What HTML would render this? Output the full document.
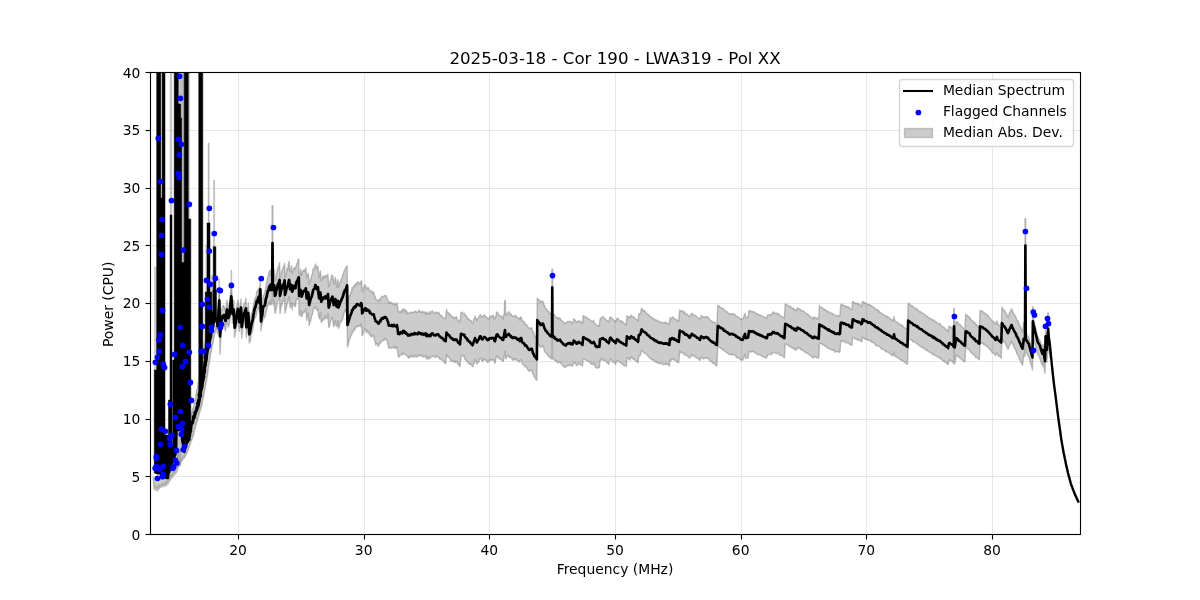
<!DOCTYPE html>
<html lang="en"><head><meta charset="utf-8"><title>2025-03-18 - Cor 190 - LWA319 - Pol XX</title>
<style>html,body{margin:0;padding:0;background:#fff;overflow:hidden}svg{display:block}</style></head>
<body>
<svg width="1200" height="600" viewBox="0 0 1200 600" font-family="'DejaVu Sans', 'Liberation Sans', sans-serif">
<rect x="0" y="0" width="1200" height="600" fill="#ffffff"/>
<defs><clipPath id="ax"><rect x="150" y="72" width="930" height="462"/></clipPath></defs>
<path d="M238.5 72V534M364.5 72V534M489.5 72V534M615.5 72V534M741.5 72V534M866.5 72V534M992.5 72V534" stroke="#b0b0b0" stroke-opacity="0.3" stroke-width="1.11" fill="none"/>
<path d="M150 534.5H1080M150 476.5H1080M150 419.5H1080M150 361.5H1080M150 303.5H1080M150 245.5H1080M150 188.5H1080M150 130.5H1080M150 72.5H1080" stroke="#b0b0b0" stroke-opacity="0.3" stroke-width="1.11" fill="none"/>
<g clip-path="url(#ax)">
<path d="M216.7 309.56 L217.6 316.2 L218.45 304.37 L219.3 290.47 L220 327.06 L221.2 311.82 L221.9 308.98 L222.6 306.86 L223.3 305.29 L224 306.53 L224.75 308.25 L225.5 311.3 L226.25 306.48 L227 300.25 L227.65 303.92 L228.3 308.11 L228.95 306.17 L229.6 304.24 L230.45 294.72 L231.3 287.78 L231.95 297.15 L232.6 303.63 L233.7 300.27 L234.7 317.43 L235.55 313.8 L236.4 307.63 L237.2 304.12 L238 299.9 L238.7 305.98 L239.4 311.87 L240.2 305.98 L241 299.2 L241.7 317.44 L242.3 313.01 L242.9 311.21 L243.5 306.16 L244.1 303.91 L244.7 303.34 L245.3 301.62 L245.9 298.26 L246.3 316.28 L246.97 311.77 L247.63 308.62 L248.3 302.95 L249.3 325.48 L249.98 322.89 L250.65 318.56 L251.32 314.47 L252 312.73 L252.67 309.83 L253.33 306.36 L254 302.86 L254.67 298.63 L255.33 297.63 L256 297.04 L256.68 291.54 L257.35 290.66 L258.02 289.9 L258.7 288.01 L259.5 293.42 L260.3 279.93 L261 312 L261.62 308.95 L262.25 304.9 L262.88 297.92 L263.5 295.47 L264.25 294.56 L265 291.86 L265.83 287.35 L266.67 282.85 L267.29 279.08 L267.92 276.51 L268.54 275.54 L269.17 270.89 L269.83 275.02 L270.5 269.74 L271.25 274.01 L272.08 268.74 L272.25 271.88 L272.15 205.6 L272.85 205.6 L272.75 269.64 L273.33 274.31 L274.17 269.38 L275 280.6 L275.62 280.42 L276.25 274.63 L276.88 272.71 L277.5 269.38 L278.19 266.95 L278.89 266.42 L279.58 262.61 L280 278.12 L280.69 276.04 L281.39 272.63 L282.08 270.44 L282.71 269.34 L283.33 267.28 L283.96 266.02 L284.58 263.1 L285 277.65 L285.69 275.25 L286.39 273.28 L287.08 268.04 L287.78 269.96 L288.47 264.28 L289.17 261.39 L290 271.86 L290.83 271.01 L291.67 265.61 L292.08 273.71 L292.78 272.12 L293.47 270.25 L294.17 267.37 L294.79 269.22 L295.42 268.25 L296.04 266.31 L296.67 264.17 L297.36 263.18 L298.06 259.72 L298.75 259.06 L299.17 277.74 L300 274.67 L300.83 269.54 L301.67 275.29 L302.36 273.42 L303.06 270.29 L303.75 271.29 L304.44 269.75 L305.14 271.84 L305.83 267.59 L306.67 277.51 L307.5 275.09 L308.33 273.47 L309.17 284.23 L309.79 282.4 L310.42 279.71 L311.04 278.2 L311.67 275.35 L312.36 274.23 L313.06 269.15 L313.75 268.13 L314.58 267.99 L315.42 264.08 L316.04 266.07 L316.67 268.85 L317.29 267.58 L317.92 266.24 L318.54 272.52 L319.17 277.77 L319.79 273.81 L320.42 270.8 L321.25 281.05 L321.94 279.59 L322.64 277.19 L323.33 275.99 L323.96 278.09 L324.58 276.8 L325.21 275.56 L325.83 276.93 L326.53 275.8 L327.22 275.31 L327.92 274.6 L328.75 286.79 L329.44 285.02 L330.14 281.61 L330.83 279.79 L331.67 275.27 L332.5 275.13 L333.12 278.63 L333.75 284 L334.58 280.67 L335.42 277.32 L336.04 282.13 L336.67 287.05 L337.29 283.53 L337.92 279.78 L338.33 287.52 L339.03 286.27 L339.72 282.27 L340.42 281.83 L341.11 279.58 L341.81 278.74 L342.5 275.39 L343.12 274.47 L343.75 272.18 L344.38 270.1 L345 270.06 L345.69 267.63 L346.39 267 L347.08 265.76 L347.5 303.47 L348.17 301.48 L348.83 297.59 L349.5 295.51 L350.17 295.52 L350.83 291.89 L351.46 292.22 L352.08 287.65 L352.71 288.16 L353.33 287.33 L354 285.38 L354.67 286.78 L355.33 284 L356 284.72 L356.67 282.66 L357.29 282.39 L357.92 281.74 L358.54 283.87 L359.17 282.83 L359.79 283.55 L360.42 283.87 L361.04 281.03 L361.67 280.94 L362.08 291.18 L362.81 291.17 L363.54 287.46 L364.27 286.4 L365 284.82 L365.73 285.78 L366.46 289.2 L367.19 288.6 L367.92 287.42 L368.58 287.94 L369.25 290.32 L369.92 290.6 L370 291.12 L370.62 291.48 L371.25 291.13 L371.88 290.81 L372.5 293.51 L373.12 293.19 L373.75 292.14 L374.38 295.66 L375 296.22 L375.62 298.84 L376.25 299.21 L376.88 300.22 L377.5 300.18 L378.12 300.94 L378.75 301.93 L379.38 299.15 L380 298.69 L380.62 299.93 L381.25 297.28 L381.88 296.25 L382.5 296.59 L383.19 296.88 L383.88 296.08 L384.56 295.7 L385.25 295.32 L386 295.63 L386.75 297.34 L387.5 299.33 L388.12 300.17 L388.75 303.45 L389.38 302 L390 303.71 L390.62 302.3 L391.25 302.25 L391.88 303.16 L392.5 304.01 L393.12 303.91 L393.75 303.15 L394.38 303.96 L395 305.04 L395.62 303.93 L396.25 304.86 L396.88 302.84 L397.5 306.38 L398.12 311.35 L398.75 311.79 L399.38 311.49 L400 312.91 L400.62 311.62 L401.25 311.57 L401.88 309.79 L402.5 312.46 L403.12 309.07 L403.75 309.29 L404.38 309.16 L405 311.53 L405.62 309.85 L406.25 313.28 L406.88 311.2 L407.5 313.69 L408.12 313.47 L408.75 313.36 L409.38 312.57 L410 313.01 L410.62 312 L411.25 312.49 L411.88 312.49 L412.5 312.44 L413.12 312.76 L413.75 311.97 L414.38 311.75 L415 312.04 L415.62 310.95 L416.25 312.26 L416.88 312.31 L417.5 312.22 L418.12 311.64 L418.75 309.91 L419.38 310.93 L420 311.3 L420.62 312.32 L421.25 311.52 L421.88 312.81 L422.5 311.2 L423.12 311.96 L423.75 312.31 L424.38 312.17 L425 313.29 L425.62 311.79 L426.25 314.65 L426.88 312.27 L427.5 313.27 L428.12 313.47 L428.75 314.54 L429.38 311.59 L430 313.8 L430.62 313.31 L431.25 311.41 L431.88 311.58 L432.5 310.88 L433.12 312.14 L433.75 312.25 L434.38 313.7 L435 313.07 L435.62 313.01 L436.25 311.81 L436.88 312.99 L437.5 312.77 L438.12 313.08 L438.75 312.3 L439.38 314.1 L440 314.53 L440.62 315.55 L441.25 315.56 L441.88 316.7 L442.5 316.83 L443.12 317.56 L443.75 317.91 L444.38 318.47 L445 318.69 L445.62 318.08 L446.5 309.29 L447.2 312.16 L447.9 312.25 L448.6 313.04 L449.3 314.61 L450 313.85 L450.62 315.62 L451.25 315.91 L451.88 316.33 L452.5 316.29 L453.12 317.23 L453.75 318.68 L454.38 317.64 L455 317.32 L455.62 317.8 L456.25 316.65 L456.88 317.59 L457.5 319.93 L458.12 320.33 L458.75 321.02 L459.38 321.99 L460 322.03 L461 312.54 L461.69 312.12 L462.38 312.54 L463.06 313.25 L463.75 313.74 L464.38 313.33 L465 315.12 L465.62 315.64 L466.25 315.82 L466.88 316.75 L467.5 319 L468.12 318.49 L468.75 318.98 L469.38 319.73 L470 320.11 L470.62 321.02 L471.25 320.87 L471.88 322.3 L472.5 323.48 L473.12 321.96 L473.75 319.33 L474.38 319.02 L475 315.89 L475.62 317.4 L476.25 319.08 L476.88 320.57 L477.5 318.69 L478.12 318.71 L478.75 317.18 L479.38 316.54 L480 314.75 L480.62 314.74 L481.25 316.25 L481.88 317.44 L482.5 317.05 L483.12 315.98 L483.75 315.41 L484.38 314.71 L485 316.47 L485.62 316.42 L486.25 316.59 L486.88 317.63 L487.5 318.22 L488.12 318.5 L488.75 318.97 L489.38 317.9 L490 316.33 L490.62 317.09 L491.25 317.01 L491.88 315.67 L492.5 316.56 L493.12 315.34 L493.75 316.22 L494.38 319.02 L495 318.97 L495.62 317.35 L496.25 313.99 L496.88 312.07 L497.5 312.25 L498.12 313.59 L498.75 315.12 L499.38 315.22 L500 316.17 L500.62 316.45 L501.25 316.47 L501.88 315.9 L502.5 318.36 L503.12 318.87 L503.75 315.46 L504.38 311.76 L504.65 300.6 L505.35 300.6 L505.62 314.99 L506.25 315.2 L506.88 313.56 L507.5 313.53 L508.12 312.62 L508.75 311.56 L509.38 313.25 L510 313.51 L510.62 314.77 L511.25 314.45 L511.88 315.8 L512.5 316.56 L513.12 316.17 L513.75 315.83 L514.38 316.1 L515 316.53 L515.62 315.2 L516.23 316.62 L516.84 317.07 L517.45 318.19 L518.05 318.37 L518.66 317.97 L519.27 318.84 L519.88 320.11 L520 317.66 L520.62 316.79 L521.25 317.3 L521.88 319.77 L522.5 321.36 L523.12 321.33 L523.75 321.92 L524.38 321.52 L525 324.57 L525.62 324.28 L526.25 324.42 L526.88 325.07 L527.5 326.3 L528.12 327.39 L528.75 327.72 L529.38 328.51 L530 328.37 L530.62 328.04 L531.25 328.82 L531.88 327.77 L532.5 330.29 L533.12 332.81 L533.75 332.73 L534.38 335.03 L535 336.55 L535.62 336.42 L536.25 337.3 L536.88 338.01 L537.25 298.23 L537.5 298.73 L538.12 298.94 L538.75 299.5 L539.38 300.08 L540 302.13 L540.62 302.55 L541.25 301.14 L541.88 301.56 L542.5 301.05 L543.12 301.73 L543.75 304.03 L544.38 305.99 L545 306.4 L545.62 308.86 L546.25 308.95 L546.88 309.2 L547.5 311.01 L548.12 311.32 L548.75 311.51 L549.38 313.38 L550 312.93 L550.62 314.31 L551.31 314.06 L552 313.84 L551.9 269.2 L552.6 269.2 L552.5 314.16 L553.12 315.06 L553.75 314.88 L554.38 314.54 L555 316.93 L555.62 317.19 L556.25 317.37 L556.88 316.78 L557.5 318.66 L558.12 318.81 L558.75 317.87 L559.38 317.83 L560 317.91 L560.62 319.71 L561.25 319.77 L561.88 320.53 L562.5 321.52 L563.12 321.93 L563.75 322.59 L564.38 322.38 L565 323.48 L565.62 323.57 L566.25 322.67 L566.88 322.67 L567.5 321.5 L568.12 321.57 L568.75 321.42 L569.38 321.38 L570 321.29 L570.62 322.39 L571.25 321.97 L571.88 322.95 L572.5 323.34 L573.12 321.38 L573.75 318.63 L574.38 319.62 L575 319.85 L575.62 320.7 L576.25 322.11 L576.88 322.63 L577.5 321.55 L578.12 321.52 L578.75 320.66 L579.38 321.17 L580 321.21 L580.62 322.01 L581.25 322.4 L581.88 321.73 L582.5 323.66 L583.12 316.07 L583.75 315.47 L584.38 317.11 L585 316.84 L585.62 317.05 L586.25 317.12 L586.88 317.58 L587.5 318.02 L588.12 318.51 L588.75 318.99 L589.38 319.4 L590 319.67 L590.62 321.05 L591.25 321 L591.88 321.75 L592.5 320.98 L593.12 321.73 L593.75 320.44 L594.38 322.95 L595 323.41 L595.62 324.77 L596.25 325.55 L596.88 325.19 L597.5 325.63 L598.12 325.98 L598.75 325.15 L599.38 326.01 L600 318.84 L600.62 318.71 L601.25 317.49 L601.88 317.79 L602.5 317.38 L603.12 316.39 L603.75 317.95 L604.38 318.23 L605 318.64 L605.62 318.72 L606.25 320.03 L606.88 320.94 L607.5 320.72 L608.12 321.31 L608.75 321.91 L609.38 319.32 L610 317.27 L610.62 316.91 L611.25 318.44 L611.88 318.25 L612.5 318.95 L613.12 319.38 L613.75 320.51 L614.38 320.98 L615 320.41 L615.62 322.1 L616.25 320.21 L616.88 318.31 L617.5 318.52 L618.12 318.62 L618.75 319.46 L619.38 320.66 L620 321.12 L620.62 321.66 L621.25 320.58 L621.88 321.84 L622.5 321.59 L623.12 322.56 L623.75 323 L624.38 323.9 L625 323.72 L625.62 324.43 L626.25 325.1 L626.88 315.74 L627.5 316.63 L628.12 317.56 L628.75 316.42 L629.38 317.21 L630 317.65 L630.62 316.58 L631.25 315.08 L631.88 315.98 L632.5 316.65 L633.12 317.01 L633.75 316.68 L634.38 318.11 L635 318.34 L635.62 318.64 L636.25 319.53 L636.88 320.09 L637.5 319.93 L638.12 321.16 L638.75 314.35 L639.38 313.72 L640 313.85 L640.62 313.18 L641.25 309.09 L641.88 308.29 L642.5 309.56 L643.12 310.83 L643.75 310.66 L644.38 310.29 L645 311.51 L645.62 312.14 L646.25 312.49 L646.88 314.02 L647.5 314.17 L648.12 314.55 L648.75 314.63 L649.38 315.96 L650 316.16 L650.62 316.82 L651.25 317.37 L651.88 318.25 L652.5 317.66 L653.12 318.58 L653.75 318.59 L654.38 319.6 L655 319.88 L655.62 319.81 L656.25 321.23 L656.88 320.16 L657.5 320.52 L658.12 321.44 L658.75 321.19 L659.38 321.63 L660 322.21 L660.62 322.37 L661.25 322.48 L661.88 321.98 L662.5 323.03 L663.12 322.87 L663.75 323.07 L664.38 323.34 L665 322.09 L665.62 322.87 L666.25 322.61 L666.88 323.5 L667.5 323.09 L668.12 323.4 L668.75 324.4 L669.38 324.28 L669.88 317.99 L670 319.22 L670.62 319.66 L671.25 318.44 L671.88 317.61 L672.5 316.81 L673.12 317.81 L673.75 318.32 L674.38 318.3 L675 318.88 L675.62 319.66 L676.25 319.62 L676.88 320.52 L677.5 320.06 L678.12 321.11 L678.75 320.84 L679.75 309.83 L680.42 310.83 L681.08 311.12 L681.75 310.97 L682.42 310.6 L683.08 312.05 L683.75 312.72 L684.38 311.69 L685 313.91 L685.62 313.8 L686.25 313.67 L686.88 313.95 L687.5 314.85 L688.12 315.46 L688.75 315.83 L689.38 316.72 L690 316.71 L690.62 314.89 L691.25 314 L691.88 313.26 L692.5 313.93 L693.12 314.61 L693.75 315.04 L694.38 314.94 L695 315.47 L695.62 315.74 L696.25 316.15 L696.88 316.85 L697.5 317.54 L698.12 317.8 L698.75 317.9 L699.38 318.77 L700 319.19 L700.62 317.83 L701.25 315.6 L701.88 316.34 L702.5 316.29 L703.12 316.55 L703.75 317.74 L704.38 317.62 L705 316.91 L705.62 316.41 L706.25 316.75 L706.88 317.33 L707.5 317.01 L708.12 317.02 L708.75 318.47 L709.38 318.99 L710 319.95 L710.62 320.45 L711.25 320.87 L711.88 321.19 L712.5 322.38 L713.12 321.89 L713.75 322.39 L714.38 322.18 L715 322.79 L715.62 323.84 L716.25 323.83 L716.88 324.65 L717.75 305.66 L718.43 305.38 L719.11 305.71 L719.79 307.04 L720.46 307.62 L721.14 307.62 L721.82 307.98 L722.5 308.1 L723.12 308.39 L723.75 309.82 L724.38 310.22 L725 310.4 L725.62 311.16 L726.25 311.12 L726.88 312.17 L727.5 311.95 L728.12 312.77 L728.75 313.75 L729.38 313.89 L730 314.4 L730.62 313.88 L731.25 313.53 L731.88 313.86 L732.5 313.53 L733.12 314.41 L733.75 314.12 L734.38 314.04 L735 315.18 L735.62 315.33 L736.25 316.34 L736.88 316.75 L737.5 316.68 L738.12 317.02 L738.75 317.45 L739.38 318.22 L740 318.53 L740.62 319.26 L741.25 318.51 L741.88 319.85 L742.5 319.36 L743.12 318.65 L743.75 316.47 L744.38 315.01 L745 313.45 L745.62 317.45 L746.25 317.94 L746.88 317.24 L747.5 317.43 L748.12 317.51 L749 310.33 L749.6 311.15 L750.2 311.79 L750.8 310.76 L751.4 311.54 L752 311.7 L752.6 311.59 L753.2 311.49 L753.8 312.37 L754.4 312.04 L755 312.43 L755.62 313.24 L756.25 313.61 L756.88 313.52 L757.5 314.06 L758.12 313.91 L758.75 314.71 L759.38 314.8 L760 315.68 L760.62 315.31 L761.25 315.19 L761.88 316.03 L762.5 316.36 L763.12 316.53 L763.75 317.02 L764.38 317.47 L765 317.52 L765.62 317.93 L766.25 318.31 L766.88 317.98 L767.5 315.67 L768.12 314.72 L768.75 314.71 L769.38 314.98 L770 314.81 L770.62 314.78 L771.25 315.04 L771.88 313.49 L772.5 313.86 L773.12 311.96 L773.75 311.89 L774.38 312.71 L775 313.05 L775.62 313.34 L776.25 313.59 L776.88 313.16 L777.5 313.71 L778.12 313.21 L778.75 314.2 L779.38 314.74 L780 315.43 L780.62 315.82 L781.25 316.7 L781.88 316.81 L782.5 316.73 L783.12 317.4 L783.75 318.23 L784.38 318.52 L785.25 304.04 L785.93 304.09 L786.61 304.44 L787.29 305.29 L787.96 305.4 L788.64 305.9 L789.32 306.84 L790 306.3 L790.62 306.34 L791.25 307.6 L791.88 308.23 L792.5 308.31 L793.12 309 L793.75 308.3 L794.38 310.37 L795 309.83 L795.62 310.33 L796.25 310.52 L796.88 309.46 L797.5 307.71 L798.12 308.93 L798.75 308.72 L799.38 308.58 L800 308.9 L800.62 310.35 L801.25 310.07 L801.88 311.01 L802.5 311.03 L803.12 310.52 L803.75 311.26 L804.38 311.91 L805 312.72 L805.62 313.06 L806.25 313.34 L806.88 313.55 L807.5 314.68 L808.12 314.61 L808.75 314.93 L809.38 316.43 L810 316.61 L810.62 316.5 L811.25 317.26 L811.88 317.58 L812.5 318.32 L813.12 319.12 L813.75 317.74 L814.38 316.77 L815 318.13 L815.62 317.95 L816.25 318.17 L816.88 319.17 L817.5 318.1 L818.12 319 L818.75 318.7 L819.38 305.25 L820 306.84 L820.62 307.27 L821.25 307.39 L821.88 307.48 L822.5 308.25 L823.12 308.22 L823.75 309.62 L824.38 308.99 L825 310.32 L825.62 309.96 L826.25 310.64 L826.88 310.72 L827.5 311.2 L828.12 312.26 L828.75 311.56 L829.38 312.96 L830 312.88 L830.62 312.87 L831.25 312.94 L831.88 313.16 L832.5 314.09 L833.12 313.89 L833.75 314.08 L834.38 315.42 L835 315.48 L835.62 315.51 L836.25 315.67 L836.88 316.07 L837.5 315.84 L838.12 315.71 L838.75 315.37 L839.38 316.16 L840 315.05 L840.62 305.48 L841.25 304.09 L841.88 305.23 L842.5 304.45 L843.12 305.61 L843.75 305.72 L844.38 305.6 L845 306.04 L845.62 305.8 L846.25 307.26 L846.88 306.72 L847.5 306.54 L848.12 307.48 L848.75 306.68 L849.38 308.22 L850 308.34 L850.62 309.28 L851.25 309.39 L851.88 309.74 L852.75 301.56 L853.45 301.76 L854.15 302.41 L854.85 303.16 L855.55 303.29 L856.25 303.64 L856.88 303.44 L857.5 303.03 L858.12 304.91 L858.75 303.94 L859.38 303.98 L860 305.07 L860.62 305.81 L861.25 306.63 L861.88 305.78 L862.5 301.78 L863.12 301.56 L863.75 301.84 L864.38 303.26 L865 302.71 L865.62 303.56 L866.25 303.16 L866.88 304.07 L867.5 304.29 L868.12 305.17 L868.75 304.53 L869.38 304.45 L870 304.82 L870.62 305.35 L871.25 306.26 L871.88 305.82 L872.5 306.9 L873.12 307.04 L873.75 307.9 L874.38 307.72 L875 309.01 L875.62 309.72 L876.25 309.83 L876.88 309.12 L877.5 310.32 L878.12 310.29 L878.75 311.77 L879.38 311.28 L880 312.37 L880.62 312.88 L881.25 312.66 L881.88 313.78 L882.5 314.26 L883.12 314.24 L883.75 314.79 L884.38 315.24 L885 315.7 L885.62 315.93 L886.25 315.62 L886.88 317.23 L887.5 316.72 L888.12 317.29 L888.75 317.23 L889.38 318.07 L890 318.42 L890.62 319.3 L891.25 319.81 L891.88 319.53 L892.5 320.61 L893.12 320.7 L894 316.59 L894.75 320.66 L895.41 321.37 L896.06 321.57 L896.72 321.95 L897.38 321.93 L898.03 323.33 L898.69 323.83 L899.34 323.67 L900 324.04 L900.62 324.88 L901.25 324.77 L901.88 325.84 L902.5 325.2 L903.12 326.64 L903.75 327.13 L904.38 327.92 L905 327.91 L905.62 328.2 L906.25 328.37 L906.88 329.41 L907.5 329.27 L908.12 303.41 L908.75 303.5 L909.38 303.53 L910 304.73 L910.62 305.08 L911.25 305.68 L911.88 305.54 L912.5 306.29 L913.12 306.55 L913.75 307.15 L914.38 307.79 L915 308.15 L915.62 308.93 L916.25 308.36 L916.88 309.58 L917.5 309.41 L918.12 310.76 L918.75 310.9 L919.38 311.37 L920 312.24 L920.62 311.55 L921.25 312.27 L921.88 312.64 L922.5 313.04 L923.12 313.46 L923.75 313.73 L924.38 314.24 L925 314.66 L925.62 315.47 L926.25 316.56 L926.88 316.03 L927.5 316.63 L928.12 317.11 L928.75 318.1 L929.38 317.99 L930 318.39 L930.62 318.8 L931.25 318.76 L931.88 319.36 L932.5 320.08 L933.12 320.09 L933.75 319.92 L934.38 321.2 L935 321.02 L935.62 322.28 L936.25 322.07 L936.88 322.68 L937.5 323.69 L938.12 323.41 L938.75 323.68 L939.38 323.71 L940 323.56 L940.62 325.22 L941.25 325.55 L941.88 326 L942.5 326.97 L943.12 327.22 L943.75 327.3 L944.38 327.84 L945 328.69 L945.62 328.95 L946.25 330.28 L946.88 329.74 L947.5 330.38 L948.12 331.57 L949 326.28 L949.7 326.14 L950.4 327.71 L951.1 327.41 L951.8 327.45 L952.5 328.18 L953.12 329.08 L953.75 330.47 L953.65 308.75 L954.35 308.75 L954.75 330.87 L955.5 326.23 L956.25 321.95 L956.88 321.66 L957.5 322.3 L958.12 322.61 L958.75 324.39 L959.38 324.36 L960 324.35 L960.62 325.24 L961.25 326.57 L961.88 327.07 L962.5 327.31 L963.12 328.23 L963.75 328.23 L964.38 329.34 L965 329.07 L965.62 314.31 L966.23 314.84 L966.84 315.57 L967.45 315.19 L968.05 316.6 L968.66 316.84 L969.27 317.06 L969.88 317.08 L970 319.22 L970.62 319.06 L971.25 320.14 L971.88 320.49 L972.5 321.22 L973.12 321.44 L973.75 322.97 L974.38 322.33 L975 322.8 L975.62 325.19 L976.25 324.64 L976.88 325.58 L977.5 325.66 L978.12 326.88 L978.75 327.09 L979.38 328.06 L980 310.28 L980.62 310.77 L981.25 311.14 L981.88 310.83 L982.5 311.02 L983.12 312.04 L983.75 313.05 L984.38 313.35 L985 312.91 L985.62 313.78 L986.25 314.51 L986.88 314.94 L987.5 314.97 L988.12 315.55 L988.75 316.73 L989.38 317.39 L990 318.26 L990.62 318.81 L991.25 319.93 L991.88 320.68 L992.5 321.04 L993.12 321.36 L993.75 321.99 L994.38 322.56 L995 323.65 L995.62 324.63 L996.25 322.63 L996.88 320.85 L997.5 323.16 L998.12 324.16 L998.75 325.04 L999.38 325.35 L1000 326.08 L1000.62 326.17 L1001.25 327.03 L1001.88 307.2 L1002.5 307.92 L1003.12 309.79 L1003.75 309.83 L1004.38 310.57 L1005 311.68 L1005.62 312.31 L1006.25 313.58 L1006.88 314.35 L1007.5 316.5 L1008.12 317.42 L1008.75 315.96 L1009.38 312.86 L1010.08 311.82 L1010.79 310.91 L1011.5 308.85 L1012.25 310.46 L1013 312.28 L1013.75 313.43 L1014.38 314.95 L1015 315.55 L1015.62 316.8 L1016.25 318.04 L1016.88 320.31 L1017.5 320.56 L1018.12 321.29 L1018.75 323.37 L1019.38 324.75 L1020 326.42 L1020.62 327.27 L1021.25 329.29 L1021.88 330.37 L1022.5 332.05 L1023.12 327.75 L1023.75 322.18 L1024.38 322.95 L1025 323.53 L1025.03 218.6 L1025.72 218.6 L1025.75 329.11 L1026.35 333.44 L1026.95 334.58 L1027.55 335.62 L1028.15 336.4 L1028.75 337.43 L1029.38 340.43 L1030 341.81 L1030.62 344.71 L1031.25 346.36 L1031.88 349.02 L1032.5 351.21 L1032.53 307 L1033.22 307 L1033.58 318.44 L1034.29 322.41 L1035 325.1 L1035.62 327.81 L1036.25 330.84 L1036.88 332.79 L1037.5 336.03 L1038.12 336.98 L1038.75 338.07 L1039.38 339.86 L1040 340.57 L1040.62 342.65 L1041.25 344.32 L1041.88 346.7 L1042.5 348.74 L1043.12 344.37 L1043.75 348.86 L1044.38 352.14 L1045 355.98 L1045.62 330.78 L1046.25 337.86 L1046.88 345.06 L1047.5 333.72 L1047.78 313 L1048.47 313 L1048.75 332.41 L1049.38 337.23 L1050 341.57 L1050 358.21 L1049.38 353.96 L1048.75 349.89 L1048.12 340.86 L1047.5 351.55 L1046.88 362.55 L1046.25 355.03 L1045.62 348.67 L1045 373.19 L1044.38 369.25 L1043.75 366.21 L1043.12 361.93 L1042.5 365.98 L1041.88 364.36 L1041.25 362.83 L1040.62 360.48 L1040 358.47 L1039.38 356.95 L1038.75 355.74 L1038.12 354.64 L1037.5 353.62 L1036.88 350.78 L1036.25 348.45 L1035.62 345.79 L1035 343.52 L1034.29 340.18 L1033.58 337.58 L1032.88 333.72 L1032.5 369.9 L1031.88 367.45 L1031.25 364.9 L1030.62 363.18 L1030 360.88 L1029.38 358.46 L1028.75 356.27 L1028.15 355.96 L1027.55 354.66 L1026.95 353.12 L1026.35 352.28 L1025.75 353.35 L1025.38 259.91 L1025 356.48 L1024.38 355.08 L1023.75 354.6 L1023.12 360.39 L1022.5 365.24 L1021.88 363.91 L1021.25 363.24 L1020.62 361.11 L1020 359.87 L1019.38 359.01 L1018.75 357.08 L1018.12 355.5 L1017.5 354.31 L1016.88 353.97 L1016.25 351.75 L1015.62 349.52 L1015 348.71 L1014.38 347.53 L1013.75 346.52 L1013 344.64 L1012.25 343.07 L1011.5 341.26 L1010.79 343.47 L1010.08 344.74 L1009.38 345.47 L1008.75 347.68 L1008.12 349.15 L1007.5 348.45 L1006.88 346.84 L1006.25 345.67 L1005.62 343.85 L1005 342.96 L1004.38 341.98 L1003.75 341.87 L1003.12 341.12 L1002.5 339.34 L1001.88 338.34 L1001.25 358.43 L1000.62 356.99 L1000 356.93 L999.38 356.12 L998.75 356.39 L998.12 355.39 L997.5 354.01 L996.88 352.62 L996.25 353.74 L995.62 355.56 L995 354.45 L994.38 353.82 L993.75 353.36 L993.12 352.59 L992.5 352.77 L991.88 352.02 L991.25 350.55 L990.62 350.37 L990 349.24 L989.38 349.14 L988.75 348.09 L988.12 347.34 L987.5 346.79 L986.88 346.81 L986.25 346.27 L985.62 345.35 L985 345.01 L984.38 344.23 L983.75 344.64 L983.12 343.43 L982.5 342.51 L981.88 343.4 L981.25 343.27 L980.62 342.3 L980 342.51 L979.38 359.61 L978.75 359.72 L978.12 358.32 L977.5 357.97 L976.88 357.13 L976.25 356.99 L975.62 357.61 L975 355.31 L974.38 355.05 L973.75 355 L973.12 354.14 L972.5 353.64 L971.88 353.15 L971.25 352.85 L970.62 351.66 L970 351.22 L969.88 350.75 L969.27 349.53 L968.66 349.54 L968.05 348.92 L967.45 348.1 L966.84 348.16 L966.23 348.05 L965.62 348.22 L965 361.6 L964.38 361.73 L963.75 361.1 L963.12 360.65 L962.5 360.1 L961.88 359.8 L961.25 359.19 L960.62 358.18 L960 357.91 L959.38 357.76 L958.75 357.05 L958.12 356.13 L957.5 356.21 L956.88 355.02 L956.25 354.86 L955.5 359.35 L954.75 364.18 L954 343.02 L953.75 363.5 L953.12 362.82 L952.5 361.67 L951.8 360.95 L951.1 361.01 L950.4 360.63 L949.7 359.39 L949 360.14 L948.12 364.63 L947.5 364.26 L946.88 362.89 L946.25 363.27 L945.62 362.61 L945 362.11 L944.38 361.03 L943.75 361.37 L943.12 360.94 L942.5 360.29 L941.88 359.81 L941.25 358.99 L940.62 359.09 L940 357.32 L939.38 357.88 L938.75 357.69 L938.12 357.32 L937.5 356.91 L936.88 356.27 L936.25 355.8 L935.62 355.9 L935 355.27 L934.38 354.85 L933.75 353.7 L933.12 355.07 L932.5 354.16 L931.88 353.42 L931.25 352.72 L930.62 352.45 L930 352.4 L929.38 352.23 L928.75 351.96 L928.12 351.28 L927.5 350.73 L926.88 349.92 L926.25 350.43 L925.62 349.3 L925 349.11 L924.38 348.62 L923.75 348.59 L923.12 347.64 L922.5 347.58 L921.88 346.53 L921.25 346.5 L920.62 346.75 L920 346.26 L919.38 345.45 L918.75 345.18 L918.12 344.25 L917.5 343.9 L916.88 344.06 L916.25 342.98 L915.62 342.57 L915 342.11 L914.38 342.01 L913.75 341.9 L913.12 341.99 L912.5 340.7 L911.88 339.97 L911.25 340.21 L910.62 339.91 L910 339.39 L909.38 338.83 L908.75 338.47 L908.12 338.08 L907.5 364.12 L906.88 364.03 L906.25 363.39 L905.62 363.2 L905 362.37 L904.38 362.32 L903.75 361.6 L903.12 361.4 L902.5 360.38 L901.88 360.16 L901.25 360.46 L900.62 359.74 L900 359.64 L899.34 358.77 L898.69 358.22 L898.03 358.1 L897.38 357.37 L896.72 356.81 L896.06 356.85 L895.41 356.33 L894.75 355.85 L894 351.85 L893.12 355.72 L892.5 355.82 L891.88 355.02 L891.25 354.77 L890.62 353.98 L890 353.6 L889.38 353.39 L888.75 352.12 L888.12 352.23 L887.5 352.3 L886.88 352.07 L886.25 350.76 L885.62 351.52 L885 350.4 L884.38 350.49 L883.75 349.93 L883.12 349.45 L882.5 349.11 L881.88 349.26 L881.25 348.51 L880.62 347.77 L880 346.76 L879.38 346.89 L878.75 346.26 L878.12 345.74 L877.5 346.04 L876.88 345.56 L876.25 344.99 L875.62 345.46 L875 343.92 L874.38 342.66 L873.75 342.72 L873.12 342.74 L872.5 342.17 L871.88 341.14 L871.25 342.33 L870.62 340.52 L870 340.22 L869.38 340 L868.75 340.67 L868.12 340.65 L867.5 339.57 L866.88 339.14 L866.25 339.31 L865.62 338.65 L865 338.82 L864.38 338.98 L863.75 337.45 L863.12 337.09 L862.5 337.35 L861.88 341.6 L861.25 341.63 L860.62 341.04 L860 340.48 L859.38 339.7 L858.75 339.66 L858.12 340.51 L857.5 339.23 L856.88 339.41 L856.25 339.27 L855.55 338.68 L854.85 338.93 L854.15 337.64 L853.45 337.41 L852.75 337.45 L851.88 345.31 L851.25 345.36 L850.62 344.84 L850 344 L849.38 344.22 L848.75 343.26 L848.12 342.6 L847.5 342.79 L846.88 342.92 L846.25 342.95 L845.62 342.2 L845 341.9 L844.38 340.99 L843.75 341.61 L843.12 341.33 L842.5 340.27 L841.88 341.48 L841.25 340.69 L840.62 341.44 L840 351.43 L839.38 352.31 L838.75 352 L838.12 351.49 L837.5 351.72 L836.88 351.83 L836.25 351.75 L835.62 351.44 L835 352.27 L834.38 351.15 L833.75 349.93 L833.12 349.5 L832.5 350.33 L831.88 349.98 L831.25 349.88 L830.62 349.06 L830 349.1 L829.38 348.47 L828.75 347.92 L828.12 348.59 L827.5 348.1 L826.88 347.05 L826.25 346.69 L825.62 346.09 L825 346.54 L824.38 345.05 L823.75 345.26 L823.12 344.83 L822.5 344.64 L821.88 343.45 L821.25 343.93 L820.62 343.53 L820 342.85 L819.38 343.43 L818.75 357.88 L818.12 357.93 L817.5 357.46 L816.88 357.72 L816.25 357.13 L815.62 356.98 L815 356.48 L814.38 356.28 L813.75 357.2 L813.12 358.27 L812.5 357.6 L811.88 356.75 L811.25 355.95 L810.62 355.61 L810 355.33 L809.38 354.73 L808.75 354.04 L808.12 353.82 L807.5 353.74 L806.88 352.53 L806.25 352.49 L805.62 352.88 L805 352.04 L804.38 351.74 L803.75 350.98 L803.12 350.04 L802.5 350.57 L801.88 349.72 L801.25 349.76 L800.62 349.42 L800 347.93 L799.38 348.12 L798.75 347.8 L798.12 348.28 L797.5 347.32 L796.88 348.52 L796.25 350.39 L795.62 349.18 L795 348.7 L794.38 349.7 L793.75 347.98 L793.12 348.29 L792.5 347.93 L791.88 348.01 L791.25 347.3 L790.62 346.05 L790 346.08 L789.32 346.72 L788.64 345.6 L787.96 344.87 L787.29 345.04 L786.61 344.23 L785.93 343.87 L785.25 343.85 L784.38 357.87 L783.75 357.29 L783.12 356.75 L782.5 356.3 L781.88 355.53 L781.25 355.42 L780.62 355.06 L780 355.32 L779.38 354.51 L778.75 353.68 L778.12 353 L777.5 353.37 L776.88 353.47 L776.25 353.32 L775.62 353.17 L775 352.97 L774.38 352.55 L773.75 352.27 L773.12 352.41 L772.5 353.6 L771.88 352.96 L771.25 354.54 L770.62 354.24 L770 354.36 L769.38 354.34 L768.75 354.79 L768.12 354.25 L767.5 355.36 L766.88 357.13 L766.25 358.22 L765.62 357.89 L765 357.62 L764.38 356.9 L763.75 356.92 L763.12 356.94 L762.5 356.39 L761.88 355.84 L761.25 355.79 L760.62 355.2 L760 354.91 L759.38 354.17 L758.75 354.83 L758.12 354.25 L757.5 354.64 L756.88 353.59 L756.25 353.58 L755.62 353.39 L755 352.49 L754.4 351.69 L753.8 352.22 L753.2 351.25 L752.6 351.39 L752 351.27 L751.4 352.03 L750.8 351.48 L750.2 351.96 L749.6 351.42 L749 351.6 L748.12 357.6 L747.5 358.11 L746.88 357.68 L746.25 357.71 L745.62 358.2 L745 353.81 L744.38 355.9 L743.75 357.31 L743.12 359.37 L742.5 360.35 L741.88 359.05 L741.25 360.07 L740.62 359.83 L740 358.75 L739.38 357.9 L738.75 358.12 L738.12 358.03 L737.5 357.39 L736.88 356.9 L736.25 357.45 L735.62 355.8 L735 355.02 L734.38 354.71 L733.75 354.81 L733.12 354.94 L732.5 353.85 L731.88 354.86 L731.25 354.42 L730.62 354.74 L730 354.34 L729.38 354.46 L728.75 353.98 L728.12 353.68 L727.5 353.27 L726.88 352.59 L726.25 351.69 L725.62 351.73 L725 351.62 L724.38 350.57 L723.75 350.46 L723.12 349.03 L722.5 349.68 L721.82 349.09 L721.14 348 L720.46 348.38 L719.79 347.3 L719.11 347.14 L718.43 346.4 L717.75 346.98 L716.88 365.71 L716.25 365.69 L715.62 365.25 L715 363.96 L714.38 363.37 L713.75 363.68 L713.12 362.68 L712.5 363.08 L711.88 361.88 L711.25 361.81 L710.62 361.18 L710 360.83 L709.38 360.14 L708.75 359.36 L708.12 358.54 L707.5 358.08 L706.88 358.39 L706.25 357.46 L705.62 358.04 L705 357.74 L704.38 358.06 L703.75 359.22 L703.12 358.24 L702.5 357.64 L701.88 357.9 L701.25 356.97 L700.62 358.27 L700 360.39 L699.38 360.46 L698.75 359 L698.12 358.44 L697.5 358.61 L696.88 357.9 L696.25 357.49 L695.62 357.55 L695 356.08 L694.38 355.82 L693.75 356.24 L693.12 356.11 L692.5 354.99 L691.88 354.33 L691.25 355.74 L690.62 356.38 L690 358.12 L689.38 358.11 L688.75 356.71 L688.12 356.92 L687.5 356.09 L686.88 355.41 L686.25 355.22 L685.62 354.33 L685 355.36 L684.38 353.33 L683.75 353.95 L683.08 353.43 L682.42 352.41 L681.75 352.63 L681.08 352.22 L680.42 352.73 L679.75 351.11 L678.75 362.49 L678.12 362.5 L677.5 361.59 L676.88 362.02 L676.25 361.24 L675.62 360.81 L675 360.22 L674.38 359.05 L673.75 359.88 L673.12 359.46 L672.5 358.53 L671.88 358.58 L671.25 360.13 L670.62 361.06 L670 360.08 L669.88 359.89 L669.38 365.93 L668.75 365.68 L668.12 364.2 L667.5 364.26 L666.88 364.17 L666.25 363.87 L665.62 364.85 L665 363.43 L664.38 364.33 L663.75 364.36 L663.12 364.65 L662.5 364.25 L661.88 363.61 L661.25 363.01 L660.62 363.02 L660 364.03 L659.38 362.88 L658.75 363.44 L658.12 363.01 L657.5 362.46 L656.88 362.01 L656.25 362.71 L655.62 361.12 L655 361.47 L654.38 361.2 L653.75 359.84 L653.12 360.17 L652.5 359.65 L651.88 359.74 L651.25 358.8 L650.62 358.69 L650 358.25 L649.38 357.86 L648.75 356.96 L648.12 356.34 L647.5 355.31 L646.88 354.87 L646.25 354.13 L645.62 353.32 L645 353.3 L644.38 353 L643.75 352.25 L643.12 351.99 L642.5 351.11 L641.88 350.03 L641.25 351.57 L640.62 354.38 L640 355.85 L639.38 355.79 L638.75 356.03 L638.12 362.99 L637.5 361.95 L636.88 361.15 L636.25 361.48 L635.62 360.51 L635 360.11 L634.38 359.61 L633.75 358.14 L633.12 359.21 L632.5 358.28 L631.88 357.74 L631.25 356.82 L630.62 357.46 L630 359.96 L629.38 359.41 L628.75 358.25 L628.12 358.87 L627.5 357.61 L626.88 357.82 L626.25 366.49 L625.62 365.71 L625 365.66 L624.38 365.72 L623.75 365.51 L623.12 364.83 L622.5 363.61 L621.88 364.06 L621.25 363.17 L620.62 362.89 L620 362.58 L619.38 362.05 L618.75 361.74 L618.12 360.83 L617.5 360.43 L616.88 360.43 L616.25 362.36 L615.62 364.57 L615 363.11 L614.38 362.62 L613.75 362.27 L613.12 361.9 L612.5 361.82 L611.88 360.28 L611.25 359.85 L610.62 358.68 L610 359.05 L609.38 361.59 L608.75 364.44 L608.12 363.27 L607.5 363.26 L606.88 362.44 L606.25 361.83 L605.62 359.86 L605 360.61 L604.38 360.69 L603.75 360.4 L603.12 358.74 L602.5 358.96 L601.88 360.03 L601.25 358.81 L600.62 360.5 L600 360.49 L599.38 367.42 L598.75 367.54 L598.12 367.99 L597.5 368.19 L596.88 367.66 L596.25 367.66 L595.62 367.42 L595 365.37 L594.38 365.23 L593.75 362.99 L593.12 364.21 L592.5 364.48 L591.88 364.39 L591.25 363.22 L590.62 363.8 L590 362 L589.38 362.07 L588.75 361.57 L588.12 361.47 L587.5 360.92 L586.88 360.77 L586.25 360.01 L585.62 359.9 L585 359.57 L584.38 359.29 L583.75 358.63 L583.12 359.06 L582.5 365.84 L581.88 365.13 L581.25 365.13 L580.62 365.16 L580 364.25 L579.38 363.78 L578.75 362.68 L578.12 364.42 L577.5 365.11 L576.88 365.07 L576.25 365.64 L575.62 363.38 L575 362.74 L574.38 363.17 L573.75 362.26 L573.12 364.67 L572.5 366.12 L571.88 366.05 L571.25 364.85 L570.62 365.84 L570 364.29 L569.38 364.89 L568.75 365.7 L568.12 364.7 L567.5 365.24 L566.88 366.04 L566.25 366.11 L565.62 367.39 L565 367.35 L564.38 366.28 L563.75 366.81 L563.12 365.91 L562.5 365.31 L561.88 364.58 L561.25 363.68 L560.62 363.01 L560 361.72 L559.38 362.61 L558.75 362.31 L558.12 362.24 L557.5 362.93 L556.88 360.9 L556.25 360.44 L555.62 361.55 L555 360.62 L554.38 358.84 L553.75 358.7 L553.12 359.05 L552.5 358.99 L552.25 309.18 L552 359.03 L551.31 358.31 L550.62 358.58 L550 357.74 L549.38 356.26 L548.75 356.58 L548.12 356.09 L547.5 354.68 L546.88 353.78 L546.25 353.72 L545.62 352.31 L545 352.19 L544.38 350.95 L543.75 347.87 L543.12 345.84 L542.5 345.6 L541.88 347.18 L541.25 347.17 L540.62 347.13 L540 346.9 L539.38 345.02 L538.75 344.67 L538.12 343.38 L537.5 342.89 L537.25 341.17 L536.88 380.19 L536.25 380.12 L535.62 378.29 L535 377.91 L534.38 376.64 L533.75 375.06 L533.12 374.52 L532.5 372.78 L531.88 369.6 L531.25 370.71 L530.62 370.2 L530 370.48 L529.38 371.25 L528.75 371.15 L528.12 370.01 L527.5 369.19 L526.88 367.28 L526.25 366.77 L525.62 365.99 L525 367.05 L524.38 365.38 L523.75 365.04 L523.12 364.72 L522.5 363.73 L521.88 362.14 L521.25 360.18 L520.62 359.81 L520 360.41 L519.88 361.92 L519.27 361.81 L518.66 361.36 L518.05 360.89 L517.45 360.39 L516.84 360.33 L516.23 358.82 L515.62 359.97 L515 359 L514.38 359.77 L513.75 358.4 L513.12 359.43 L512.5 360.2 L511.88 358.12 L511.25 357.62 L510.62 357.26 L510 356.52 L509.38 357.63 L508.75 355.46 L508.12 356.23 L507.5 356.04 L506.88 355.82 L506.25 358.66 L505.62 358.54 L505 350.87 L504.38 354.7 L503.75 358.5 L503.12 361.66 L502.5 360.74 L501.88 360.54 L501.25 359.61 L500.62 359.55 L500 358.56 L499.38 358.86 L498.75 358.34 L498.12 357.9 L497.5 355.37 L496.88 356.32 L496.25 357.07 L495.62 360.17 L495 363.38 L494.38 361.91 L493.75 359.76 L493.12 359.74 L492.5 360.28 L491.88 359.44 L491.25 359.58 L490.62 360.41 L490 359.89 L489.38 360.27 L488.75 361.55 L488.12 362.09 L487.5 362.6 L486.88 360.87 L486.25 360.34 L485.62 360.24 L485 359.16 L484.38 359.71 L483.75 358.65 L483.12 360.72 L482.5 361.42 L481.88 360.67 L481.25 358.81 L480.62 358.37 L480 358.2 L479.38 359.9 L478.75 361.88 L478.12 362.36 L477.5 362.31 L476.88 364.16 L476.25 361.87 L475.62 360.98 L475 359.15 L474.38 363.32 L473.75 362.97 L473.12 366.36 L472.5 366.69 L471.88 365.8 L471.25 364.36 L470.62 364.35 L470 363.24 L469.38 364.56 L468.75 363.31 L468.12 363.31 L467.5 362.03 L466.88 360.74 L466.25 361.02 L465.62 359.21 L465 359.37 L464.38 355.94 L463.75 356.53 L463.06 356.44 L462.38 355.53 L461.69 355.1 L461 355.91 L460 366.65 L459.38 365.72 L458.75 364.66 L458.12 364.64 L457.5 363.15 L456.88 361.64 L456.25 361.02 L455.62 362.42 L455 360.86 L454.38 362.57 L453.75 361.32 L453.12 361.71 L452.5 361.38 L451.88 360.19 L451.25 360.09 L450.62 361.06 L450 358.67 L449.3 357.63 L448.6 357.48 L447.9 356.11 L447.2 356.7 L446.5 354.4 L445.62 363.88 L445 363.07 L444.38 362.32 L443.75 361.7 L443.12 361.11 L442.5 360.31 L441.88 360.3 L441.25 359.35 L440.62 359.13 L440 358.09 L439.38 358.97 L438.75 356.93 L438.12 356.51 L437.5 356.73 L436.88 356.07 L436.25 355.93 L435.62 357.61 L435 357.08 L434.38 356.46 L433.75 356.16 L433.12 356.44 L432.5 355.99 L431.88 356.58 L431.25 356.09 L430.62 358.06 L430 358.57 L429.38 357.78 L428.75 357.05 L428.12 359.33 L427.5 358.07 L426.88 356.41 L426.25 358.75 L425.62 355.3 L425 356.23 L424.38 356.17 L423.75 357.24 L423.12 355.77 L422.5 355.92 L421.88 356.42 L421.25 355.21 L420.62 355.94 L420 355.76 L419.38 354.53 L418.75 354.52 L418.12 356.2 L417.5 356.54 L416.88 355.93 L416.25 357.09 L415.62 356.7 L415 355.82 L414.38 354.74 L413.75 356.38 L413.12 357.35 L412.5 356.31 L411.88 356.3 L411.25 355.6 L410.62 356.98 L410 357.24 L409.38 356.32 L408.75 358.23 L408.12 357.69 L407.5 356.04 L406.88 355.76 L406.25 355.65 L405.62 354.3 L405 354.01 L404.38 353.63 L403.75 354.13 L403.12 352.14 L402.5 354.91 L401.88 354.77 L401.25 354.49 L400.62 354.04 L400 355.81 L399.38 356.7 L398.75 356.92 L398.12 355.05 L397.5 349.94 L396.88 346.95 L396.25 348.06 L395.62 348.63 L395 346.83 L394.38 348.01 L393.75 346.56 L393.12 347.95 L392.5 347.45 L391.88 347.61 L391.25 348.4 L390.62 347.73 L390 347.52 L389.38 347.36 L388.75 348.39 L388.12 344.92 L387.5 341.78 L386.75 340.22 L386 339.5 L385.25 338.12 L384.56 340.02 L383.88 339.55 L383.19 340.71 L382.5 340.46 L381.88 340.86 L381.25 341.97 L380.62 342.91 L380 342.22 L379.38 344.04 L378.75 345.49 L378.12 346.54 L377.5 343.42 L376.88 344.17 L376.25 343.35 L375.62 344.94 L375 340.59 L374.38 339.8 L373.75 335.29 L373.12 335.28 L372.5 336.33 L371.88 336.91 L371.25 335.74 L370.62 336.16 L370 335.29 L369.92 333.38 L369.25 334.55 L368.58 331.43 L367.92 332.6 L367.19 330.26 L366.46 332.59 L365.73 329.88 L365 328.84 L364.27 330.56 L363.54 332.13 L362.81 334.72 L362.08 335.65 L361.67 326.19 L361.04 323.96 L360.42 326.68 L359.79 325.03 L359.17 325.67 L358.54 326.89 L357.92 325.65 L357.29 325.59 L356.67 326.21 L356 327.72 L355.33 327.49 L354.67 330.37 L354 329.36 L353.33 330.13 L352.71 332.67 L352.08 332.43 L351.46 335.28 L350.83 335.49 L350.17 338.37 L349.5 338.48 L348.83 341.18 L348.17 345.32 L347.5 347.06 L347.08 305.85 L346.39 309.28 L345.69 311.91 L345 309.91 L344.38 312.54 L343.75 313.93 L343.12 316.52 L342.5 320.09 L341.81 320.47 L341.11 322.3 L340.42 321.5 L339.72 324.64 L339.03 327.33 L338.33 328.45 L337.92 320.64 L337.29 326.22 L336.67 326.25 L336.04 325.32 L335.42 320.53 L334.58 324.02 L333.75 326.91 L333.12 322.48 L332.5 317.11 L331.67 318.03 L330.83 320.58 L330.14 322.74 L329.44 326.32 L328.75 327.48 L327.92 313.41 L327.22 318.47 L326.53 318.46 L325.83 318.27 L325.21 315.76 L324.58 318.25 L323.96 320.12 L323.33 318.44 L322.64 320.66 L321.94 320.61 L321.25 322.44 L320.42 312.41 L319.79 318.83 L319.17 318.42 L318.54 315.32 L317.92 309.16 L317.29 310.5 L316.67 309.87 L316.04 307.97 L315.42 306.3 L314.58 308.41 L313.75 308.37 L313.06 310.81 L312.36 314.93 L311.67 315.95 L311.04 318.82 L310.42 321.39 L309.79 322.65 L309.17 325.64 L308.33 312.71 L307.5 316.77 L306.67 320.26 L305.83 308.57 L305.14 310.84 L304.44 312.3 L303.75 311.77 L303.06 312.23 L302.36 315.51 L301.67 316.47 L300.83 310.34 L300 315.56 L299.17 315.02 L298.75 295.18 L298.06 296.41 L297.36 299.35 L296.67 298.75 L296.04 301.43 L295.42 306.6 L294.79 306.12 L294.17 303.96 L293.47 303.58 L292.78 306.05 L292.08 309.64 L291.67 302.56 L290.83 304.72 L290 307.77 L289.17 296.36 L288.47 298.59 L287.78 302.18 L287.08 303.52 L286.39 307.63 L285.69 309.85 L285 313.38 L284.58 297.33 L283.96 299.77 L283.33 301.48 L282.71 300.46 L282.08 304.96 L281.39 304.45 L280.69 309.32 L280 313.57 L279.58 296.49 L278.89 298.9 L278.19 300.56 L277.5 301.51 L276.88 305.96 L276.25 307.34 L275.62 312.27 L275 313.28 L274.17 300.1 L273.33 305.26 L272.75 300.87 L272.5 259 L272.25 302.63 L272.08 299.44 L271.25 304.9 L270.5 300.72 L269.83 304.77 L269.17 302.27 L268.54 304.38 L267.92 305.81 L267.29 306.53 L266.67 310.01 L265.83 312.76 L265 317.01 L264.25 318.23 L263.5 316.46 L262.88 320.13 L262.25 323.96 L261.62 325.3 L261 330.97 L260.3 297.44 L259.5 313.1 L258.7 306.95 L258.02 307.91 L257.35 309.61 L256.68 312.25 L256 316.4 L255.33 316.56 L254.67 318.87 L254 320.41 L253.33 325.73 L252.67 330.82 L252 332.22 L251.32 334.33 L250.65 338.84 L249.98 341.57 L249.3 343.09 L248.3 322.11 L247.63 325.28 L246.97 332.94 L246.3 337.35 L245.9 317.23 L245.3 320.28 L244.7 323.1 L244.1 323.01 L243.5 325.9 L242.9 328.16 L242.3 332.25 L241.7 338.16 L241 316.6 L240.2 323.49 L239.4 331.39 L238.7 325.79 L238 318.79 L237.2 323.41 L236.4 327.94 L235.55 331.49 L234.7 337.36 L233.7 319.96 L232.6 323.38 L231.95 315.07 L231.3 304.72 L230.45 313.88 L229.6 323.56 L228.95 325.37 L228.3 327.36 L227.65 323.23 L227 319.69 L226.25 324.87 L225.5 330.98 L224.75 328.42 L224 324.48 L223.3 325.49 L222.6 324.66 L221.9 328.72 L221.2 330.94 L220 354.5 L219.3 310 L218.45 323.17 L217.6 333.88 L216.7 327.33 Z" fill="#808080" fill-opacity="0.4" stroke="#808080" stroke-opacity="0.5" stroke-width="1.39" stroke-linejoin="round"/>
<path d="M153.25 477.5 L154.62 479.6 L156 479.29 L157 479.56 L158 477.53 L159 478.1 L160.25 475.54 L161.5 476.54 L162.75 474.82 L164 475.51 L165.5 473.11 L167 473.98 L167.75 470.8 L168.5 471.16 L169.5 468.04 L170.5 468.17 L171.5 465.37 L172.38 465.5 L173.25 463.17 L174.12 464.25 L175 461.09 L175.67 460.99 L176.33 458.15 L177 458.25 L177.6 455.2 L178.2 455.09 L178.8 452.88 L179.4 452.61 L180 450.41 L181 450.7 L182 447.85 L183 448.01 L184 445.23 L184.62 444.8 L185.25 442.76 L185.88 442.58 L186.5 440.36 L185.13 442.12 L183.77 442.14 L182.4 444.91 L182.84 441.91 L183.28 441.95 L183.71 439.81 L184.15 439.29 L184.59 436.84 L185.03 437.18 L185.46 434.59 L185.9 434.56 L186.26 431.6 L186.61 431.49 L186.97 428.72 L187.33 428.45 L187.69 426.28 L188.04 425.4 L188.4 423.18 L188.78 423.54 L189.15 421.08 L189.53 420.56 L189.9 418.44 L190.28 418.16 L190.65 415.78 L191.03 415.82 L191.4 413.1 L191.78 413.26 L192.15 410.53 L192.53 410.76 L192.9 408.41 L193.28 407.89 L193.65 405.9 L194.03 405.38 L194.4 403.47 L194.65 402.53 L194.89 400.67 L195.14 400.45 L195.39 398.29 L195.64 397.33 L195.88 395.26 L196.13 395.2 L196.38 392.68 L196.63 391.94 L196.87 390.27 L197.12 389.57 L197.37 387.65 L197.62 386.98 L197.86 384.88 L198.11 384.3 L198.36 382.12 L198.61 382.01 L198.85 379.72 L199.1 379.29 L199.3 377.2 L199.5 376.23 L199.7 374.55 L199.9 374 L200.1 371.64 L200.3 371.12 L200.5 368.74 L200.7 368.59 L200.9 366.1 L201.11 365.75 L201.32 363.41 L201.53 362.76 L201.73 361.03 L201.94 360.38 L202.15 358.4 L202.36 357.92 L202.57 355.92 L202.78 354.76 L202.98 353.05 L203.19 352.43 L203.4 350.39 L203.67 349.76 L203.94 347.72 L204.21 347.36 L204.48 345.04 L204.75 344.51 L205.02 342.57 L205.28 341.59 L205.55 339.8 L205.82 338.98 L206.09 337.01 L206.36 336.29 L206.63 334.43 L206.9 333.81 L207.26 332.02 L207.61 331.47 L207.97 329.64 L208.33 328.84 L208.69 327.11 L209.04 326.2 L209.4 324 L217 326 L216.75 325.39 L216.5 328.39 L216.25 327.53 L216 329.91 L215.75 329.18 L215.5 331.85 L215.25 331.22 L215 333.23 L214.75 332.21 L214.5 335.42 L214.32 333.89 L214.13 337 L213.95 335.87 L213.76 339.16 L213.58 338.19 L213.39 340.83 L213.21 339.66 L213.03 342.66 L212.84 341.91 L212.66 344.27 L212.47 343.34 L212.29 345.9 L212.11 345.24 L211.92 348.04 L211.74 346.48 L211.55 349.45 L211.37 349.05 L211.18 351.63 L211 350.04 L210.85 353.11 L210.71 352.29 L210.56 355.24 L210.41 353.65 L210.26 357.2 L210.12 356.31 L209.97 358.71 L209.82 358.05 L209.68 361.05 L209.53 359.46 L209.38 362.88 L209.24 362.04 L209.09 364.76 L208.94 363.63 L208.79 366.31 L208.65 365.81 L208.5 368.44 L208.36 367.43 L208.22 370.28 L208.08 368.74 L207.95 372.11 L207.81 371.34 L207.67 373.98 L207.53 373.03 L207.39 375.9 L207.25 375.13 L207.12 377.44 L206.98 376.04 L206.84 379.49 L206.7 378.59 L206.53 380.99 L206.36 379.73 L206.2 383 L206.03 381.37 L205.86 384.51 L205.69 384.16 L205.52 386.29 L205.36 385.52 L205.19 388.61 L205.02 387.05 L204.85 389.99 L204.69 389.03 L204.52 392 L204.35 390.52 L204.18 393.52 L204.01 393.08 L203.85 395.43 L203.68 394.76 L203.51 397.35 L203.34 395.67 L203.18 398.79 L203.01 398.28 L202.84 400.67 L202.67 399.74 L202.5 402.61 L202.34 401.13 L202.17 404.66 L202 403.26 L201.74 405.92 L201.48 404.92 L201.22 408.12 L200.96 406.15 L200.7 409.82 L200.43 408.17 L200.17 411.2 L199.91 410.53 L199.65 413.16 L199.39 412.06 L199.13 414.95 L198.87 413.13 L198.61 416.7 L198.35 415.06 L198.09 418.55 L197.83 417.11 L197.57 420.22 L197.3 418.4 L197.04 422.08 L196.78 420.84 L196.52 423.69 L196.26 422.23 L196 425.41 L195.77 423.49 L195.55 426.93 L195.32 425.79 L195.09 428.71 L194.86 428.16 L194.64 430.55 L194.41 429.84 L194.18 432.32 L193.95 431.8 L193.73 434.45 L193.5 433.07 L193.18 436.34 L192.86 434.61 L192.55 438.14 L192.23 436.96 L191.91 440.13 L191.59 438.73 L191.27 441.4 L190.95 440.23 L190.64 443.38 L190.32 441.83 L190 445.2 L189.69 443.44 L189.38 446.97 L189.06 445.11 L188.75 448.91 L188.44 446.73 L188.12 450.67 L187.81 449.03 L187.5 452.29 L187.08 451.13 L186.67 453.98 L186.25 452.58 L185.83 455.46 L185.42 453.79 L185 457.17 L184.43 455.57 L183.86 458.78 L183.29 455.95 L182.71 460.13 L182.14 458.29 L181.57 461.45 L181 459.34 L180.57 463.17 L180.14 461.6 L179.71 465 L179.29 462.79 L178.86 467.03 L178.43 465.48 L178 468.73 L177.6 465.81 L177.2 470.84 L176.8 467.89 L176.4 472.69 L176 469.11 L175.3 474.03 L174.6 472.08 L173.9 475.58 L173.2 472.42 L172.5 477.33 L171.9 475.28 L171.3 478.86 L170.7 475.64 L170.1 480.37 L169.5 477.8 L169 482.16 L168.5 479.46 L168 484.01 L167.25 480.85 L166.5 485.41 L165.75 482.54 L165 486.39 L164 482.99 L163 486.82 L162 483.78 L161 487.63 L160 485.1 L159.25 488.83 L158.5 484.89 L157.75 490.79 L157 487.29 L156.08 490.51 L155.17 485.43 L154.25 489.33 Z" fill="#808080" fill-opacity="0.4" stroke="#808080" stroke-opacity="0.5" stroke-width="1.39" stroke-linejoin="round"/>
<path d="M170 60H171.9V215H170Z" fill="#808080" fill-opacity="0.4" stroke="#808080" stroke-opacity="0.25" stroke-width="0.8"/>
<path d="M178.3 60H181.2V118H178.3Z" fill="#808080" fill-opacity="0.45" stroke="#808080" stroke-opacity="0.25" stroke-width="0.8"/>
<path d="M181.2 60H183.9V262.5H181.2Z" fill="#808080" fill-opacity="0.3" stroke="#808080" stroke-opacity="0.25" stroke-width="0.8"/>
<path d="M182.4 72H183.9V262.5H182.4Z" fill="#808080" fill-opacity="0.3" stroke="#808080" stroke-opacity="0.25" stroke-width="0.8"/>
<path d="M188.3 60H189.6V219H188.3Z" fill="#808080" fill-opacity="0.4" stroke="#808080" stroke-opacity="0.25" stroke-width="0.8"/>
<path d="M154.4 267H156.7V370H154.4Z" fill="#808080" fill-opacity="0.4" stroke="#808080" stroke-opacity="0.25" stroke-width="0.8"/>
<path d="M208 143H209.2V223H208Z" fill="#808080" fill-opacity="0.5" stroke="#808080" stroke-opacity="0.25" stroke-width="0.8"/>
<path d="M213.5 180H214.7V247H213.5Z" fill="#808080" fill-opacity="0.5" stroke="#808080" stroke-opacity="0.25" stroke-width="0.8"/>
<path d="M205.8 245H206.8V292H205.8Z" fill="#808080" fill-opacity="0.25" stroke="#808080" stroke-opacity="0.25" stroke-width="0.8"/>
<path d="M211.2 275H212.4V311H211.2Z" fill="#808080" fill-opacity="0.4" stroke="#808080" stroke-opacity="0.25" stroke-width="0.8"/>
<path d="M218.6 279H219.8V300H218.6Z" fill="#808080" fill-opacity="0.4" stroke="#808080" stroke-opacity="0.25" stroke-width="0.8"/>
<path d="M230.8 270H232V300H230.8Z" fill="#808080" fill-opacity="0.4" stroke="#808080" stroke-opacity="0.25" stroke-width="0.8"/>
<path d="M177.3 431H181V466H177.3Z" fill="#808080" fill-opacity="0.45" stroke="#808080" stroke-opacity="0.25" stroke-width="0.8"/>
<path d="M156.7 60 L156.7 473.89 L157.11 474.02 L157.52 474.09 L157.93 474.15 L158.34 474.22 L158.75 474.29 L159.16 474.36 L159.57 474.43 L159.98 474.5 L160.39 474.69 L160.8 474.9 L160.8 60 Z M162.1 60 L162.1 475.55 L162.51 475.76 L162.93 475.96 L163.34 476.34 L163.76 476.76 L164.17 477.17 L164.59 477.59 L165 478 L165 60 Z M160.8 198 L160.8 474.9 L161.23 475.12 L161.67 475.33 L162.1 475.55 L162.1 198 Z M154.25 370 L154.25 473 L154.66 473.15 L155.07 473.3 L155.47 473.45 L155.88 473.59 L156.29 473.74 L156.7 473.89 L156.7 370 Z M165 435 L165 478 L165.44 478.44 L165.88 478.88 L166.31 479 L166.75 479 L167.19 479 L167.62 479 L168.06 479 L168.5 479 L168.5 435 Z M168.5 400 L168.5 479 L169 476.75 L169.5 474.5 L170 472.5 L170 400 Z M170 215 L170 472.5 L170.4 470.9 L170.8 469.3 L171.2 467.98 L171.6 466.94 L172 465.9 L172 215 Z M172 447.5 L172 465.9 L172.7 464.08 L172.7 447.5 Z M172.7 360 L172.7 464.08 L173.2 462.78 L173.7 461.52 L174.2 460.32 L174.2 360 Z M174.2 60 L174.2 460.32 L174.61 459.34 L175.02 458.35 L175.43 457.37 L175.84 456.38 L176.25 455.17 L176.66 453.8 L177.07 452.43 L177.48 431 L177.89 431 L178.3 431 L178.3 60 Z M178.3 104 L178.3 431 L178.78 431 L179.26 431 L179.74 431 L180.22 431 L180.7 431 L180.7 104 Z M180.7 118 L180.7 431 L181.15 439.18 L181.6 442.26 L181.6 118 Z M181.6 262.5 L181.6 442.26 L182.03 445.18 L182.47 447.49 L182.9 449.8 L183.33 452.11 L183.77 453 L184.2 453 L184.2 262.5 Z M184.2 60 L184.2 453 L184.61 453 L185.02 452.92 L185.43 451.28 L185.84 449.64 L186.25 448 L186.66 446.57 L187.07 445.48 L187.48 444.39 L187.89 443.29 L188.3 442.55 L188.3 60 Z M188.3 219 L188.3 442.55 L188.72 441.93 L189.13 441.3 L189.55 440.67 L189.97 440.05 L190.38 430.92 L190.8 430.55 L190.8 219 Z M198.75 60 L198.75 407.6 L199.16 406.36 L199.56 405.12 L199.97 403.02 L200.37 400.82 L200.78 398.61 L201.18 396.41 L201.59 394.21 L201.99 392.01 L202.4 389.81 L202.8 387.61 L202.8 60 Z M203 370 L203 386.52 L203.4 384.35 L203.8 382.17 L204.2 380 L204.6 377.07 L205 374.15 L205 370 Z M205.2 292 L205.2 372.69 L205.61 369.72 L206.01 366.89 L206.42 364.19 L206.82 361.49 L207.23 358.8 L207.64 356.1 L208.04 353.4 L208.45 350.96 L208.86 348.97 L209.26 346.97 L209.67 344.98 L210.07 342.98 L210.48 340.99 L210.89 338.99 L211.29 337 L211.7 335 L211.7 292 Z M207 223 L207 360.33 L207.43 357.49 L207.86 354.64 L208.29 351.79 L208.71 349.67 L209.14 347.56 L209.57 345.46 L210 343.35 L210 223 Z M211.7 311 L211.7 335 L212.13 333.12 L212.57 331.23 L213 329.35 L213 311 Z M213.2 246.7 L213.2 328.48 L213.65 326.52 L214.1 324.74 L214.55 323.57 L215 322.41 L215.45 321.24 L215.9 320.07 L215.9 246.7 Z M212.9 290 L212.9 329.78 L213.34 327.88 L213.78 325.98 L214.21 324.45 L214.65 323.31 L215.09 322.18 L215.53 321.05 L215.96 319.91 L216.4 318.78 L216.4 290 Z" fill="#000000" stroke="#000000" stroke-width="0.5" stroke-linejoin="round"/>
<path d="M186.62 441 L186.47 439.33 L187.12 437.67 L187.29 436 L187.73 434.43 L188.47 432.86 L188.82 431.29 L188.24 429.71 L189.39 428.14 L189.19 426.57 L189.26 425 L190.17 423.2 L190.91 421.4 L192.01 419.6 L191.96 417.8 L192.16 416 L193.61 414.43 L193.3 412.86 L194.22 411.29 L195.14 409.71 L195.29 408.14 L195.73 406.57 L196.63 405 L196.08 403.33 L196.99 401.67 L197.12 400 L198.06 398.33 L198.16 396.67 L197.65 395 L198.11 393.33 L198.7 391.67 L199.28 390 L199.18 388.33 L199.52 386.67 L200.44 385 L200.79 383.33 L200.49 381.67 L201.34 380 L200.94 378.33 L200.9 376.66 L201.62 374.99 L201.99 373.31 L202.48 371.64 L202.78 369.97 L202.8 368.3 L203.04 366.64 L203.23 364.98 L203.47 363.32 L203.79 361.66 L204.27 360 L203.86 358.34 L203.79 356.68 L204.21 355.02 L204.44 353.36 L204.85 351.7 L205.68 350.03 L205.2 348.36 L205.96 346.69 L206.7 345.02 L206.44 343.35 L206.56 341.68 L207.1 340.01 L207.26 338.34 L208.4 336.67 L208.04 335 L208.45 333.33 L209.51 331.67 L209.89 330 L210.03 328.33 L210.77 326.67 L210.22 325 L211.89 323.25 L212.13 321.5 L212.51 319.75 L213.4 318 L216.7 318 L215.74 319.75 L215.2 321.5 L214.33 323.25 L213.51 325 L213.94 326.67 L213.28 328.33 L212.34 330 L212.31 331.67 L211.64 333.33 L212.06 335 L211.81 336.67 L211.49 338.34 L211.02 340.01 L210.49 341.68 L210.07 343.35 L210.01 345.02 L209.46 346.69 L209.49 348.36 L208.37 350.03 L207.87 351.7 L207.6 353.36 L207.28 355.02 L207.53 356.68 L207.6 358.34 L207.1 360 L207.15 361.66 L206.44 363.32 L206.83 364.98 L206.02 366.64 L205.25 368.3 L206.04 369.97 L205.75 371.64 L205.45 373.31 L204.62 374.99 L205.19 376.66 L204.58 378.33 L204.22 380 L203.35 381.67 L203.67 383.33 L202.76 385 L203.28 386.67 L202.89 388.33 L202.04 390 L201.53 391.67 L201.4 393.33 L201.95 395 L201.64 396.67 L200.46 398.33 L200.13 400 L200.02 401.67 L199.64 403.33 L199.36 405 L198.83 406.57 L198.68 408.14 L198.14 409.71 L197.68 411.29 L196.8 412.86 L196.42 414.43 L195.75 416 L195.82 417.8 L194.42 419.6 L194.14 421.4 L193.86 423.2 L192.54 425 L192.31 426.57 L192.09 428.14 L191.99 429.71 L191.92 431.29 L191.41 432.86 L190.93 434.43 L191.06 436 L189.94 437.67 L190.34 439.33 L189.29 441 Z" fill="#000000" stroke="#000000" stroke-width="0.5" stroke-linejoin="round"/>
<path d="M216.7 318 L217.6 326 L218.45 313.87 L219.3 300.3 L220 336.3 L221.2 322 L221.9 318.78 L222.6 316 L223.3 315.52 L224 315 L224.75 318.2 L225.5 321 L226.25 314.95 L227 309.7 L227.65 313.85 L228.3 318 L228.95 316 L229.6 314 L230.45 304.17 L231.3 296.3 L231.95 305.73 L232.6 314 L233.7 309.7 L234.7 327.7 L235.55 323.22 L236.4 318 L237.2 313.11 L238 309 L238.7 315.39 L239.4 322 L240.2 315.19 L241 307.7 L241.7 327 L242.3 323.15 L242.9 319.5 L243.5 316 L244.1 313.05 L244.7 312.54 L245.3 310.31 L245.9 308.3 L246.3 327.3 L246.97 322.74 L247.63 316.63 L248.3 313 L249.3 334.3 L249.98 332.49 L250.65 328.27 L251.32 324.77 L252 322 L252.67 320.39 L253.33 315.5 L254 312.3 L254.67 308.68 L255.33 307.1 L256 305 L256.68 301.07 L257.35 301.89 L258.02 298.64 L258.7 297 L259.5 303 L260.3 289.3 L261 321.3 L261.62 316.81 L262.25 314.62 L262.88 308.34 L263.5 306 L264.25 305.98 L265 305 L265.83 298.98 L266.67 296.67 L267.29 293.57 L267.92 290.58 L268.54 290.48 L269.17 286.67 L269.83 290 L270.5 284.58 L271.25 290 L272.08 285 L272.25 286.67 L272.5 243.17 L272.75 286.25 L273.33 290 L274.17 285 L275 295.83 L275.62 294.92 L276.25 290.54 L276.88 289.09 L277.5 285.83 L278.19 283.73 L278.89 282.46 L279.58 280 L280 295.83 L280.69 292.66 L281.39 289.3 L282.08 288.33 L282.71 284.73 L283.33 284.72 L283.96 284.42 L284.58 280.42 L285 295 L285.69 292.46 L286.39 288.97 L287.08 286.67 L287.78 286.17 L288.47 282.44 L289.17 280 L290 289.17 L290.83 287.17 L291.67 285 L292.08 291.67 L292.78 289.95 L293.47 287.66 L294.17 285.83 L294.79 286.8 L295.42 288.33 L296.04 283.71 L296.67 281.67 L297.36 280.73 L298.06 278.8 L298.75 277.5 L299.17 295.83 L300 293.99 L300.83 290 L301.67 296.67 L302.36 294.67 L303.06 291.62 L303.75 291.67 L304.44 290.47 L305.14 290.97 L305.83 288.33 L306.67 298.33 L307.5 295.07 L308.33 292.5 L309.17 305 L309.79 302.12 L310.42 299.76 L311.04 297.8 L311.67 296.67 L312.36 293.9 L313.06 290.6 L313.75 289.17 L314.58 288.43 L315.42 285 L316.04 286.83 L316.67 289.17 L317.29 288.22 L317.92 287.08 L318.54 294 L319.17 298.33 L319.79 296.77 L320.42 292.5 L321.25 301.67 L321.94 300.09 L322.64 299.19 L323.33 297.5 L323.96 298.37 L324.58 297.74 L325.21 296.52 L325.83 298.33 L326.53 297.53 L327.22 296.36 L327.92 294.17 L328.75 307.5 L329.44 305.37 L330.14 301.67 L330.83 300 L331.67 298.16 L332.5 296.67 L333.12 300.3 L333.75 305 L334.58 301.81 L335.42 299.17 L336.04 304.08 L336.67 306.67 L337.29 305.13 L337.92 300.83 L338.33 307.5 L339.03 306.16 L339.72 304.1 L340.42 301.67 L341.11 300.89 L341.81 298.88 L342.5 297.5 L343.12 295.56 L343.75 293.14 L344.38 291.82 L345 290 L345.69 290.51 L346.39 287.73 L347.08 285.42 L347.5 325 L348.17 322.53 L348.83 320.24 L349.5 317.72 L350.17 316.67" fill="none" stroke="#000000" stroke-width="2.75" stroke-linejoin="round" stroke-linecap="butt"/>
<path d="M350.17 316.67 L350.83 314.17 L351.46 313.06 L352.08 309.96 L352.71 310.22 L353.33 308.33 L354 307 L354.67 307.92 L355.33 305.97 L356 306.5 L356.67 304.17 L357.29 303.98 L357.92 304.33 L358.54 305.05 L359.17 305 L359.79 305.59 L360.42 304.86 L361.04 303.01 L361.67 303.75 L362.08 313.33 L362.81 312.24 L363.54 310.85 L364.27 309.22 L365 308.33 L365.73 308.31 L366.46 310.82 L367.19 309.57 L367.92 310.42 L368.58 310.14 L369.25 311.77 L369.92 311.67 L370 313.12 L370.62 313.44 L371.25 313.48 L371.88 314.38 L372.5 314.35 L373.12 314.46 L373.75 314.38 L374.38 317.43 L375 319.18 L375.62 321.25 L376.25 321.26 L376.88 321.97 L377.5 322.34 L378.12 323.41 L378.75 323.75 L379.38 322.08 L380 320.67 L380.62 321.32 L381.25 319.39 L381.88 318.09 L382.5 318.75 L383.19 318.56 L383.88 317.28 L384.56 317.72 L385.25 316.88 L386 317.73 L386.75 318.54 L387.5 320.62 L388.12 322.21 L388.75 325.62 L389.38 325.34 L390 325.6 L390.62 325.3 L391.25 325.78 L391.88 324.96 L392.5 326.17 L393.12 326.25 L393.75 324.76 L394.38 325.7 L395 326.12 L395.62 326.19 L396.25 326.41 L396.88 325 L397.5 328.29 L398.12 333.75 L398.75 334.02 L399.38 334.08 L400 333.67 L400.62 332.12 L401.25 332.5 L401.88 332.53 L402.5 333.26 L403.12 330.74 L403.75 331.82 L404.38 331.25 L405 332.72 L405.62 332.25 L406.25 333.82 L406.88 333.46 L407.5 334.36 L408.12 335.62 L408.75 334.86 L409.38 335.28 L410 334.87 L410.62 335.31 L411.25 333.86 L411.88 334.15 L412.5 334 L413.12 334.55 L413.75 334.25 L414.38 333.02 L415 334.21 L415.62 333.44 L416.25 333.92 L416.88 333.82 L417.5 334.33 L418.12 333.6 L418.75 332.36 L419.38 332.6 L420 333.38 L420.62 333.94 L421.25 333.47 L421.88 334.43 L422.5 334.04 L423.12 333.56 L423.75 334.77 L424.38 333.77 L425 334.38 L425.62 333.4 L426.25 336.06 L426.88 333.96 L427.5 335.68 L428.12 336.09 L428.75 335.87 L429.38 335.04 L430 336.25 L430.62 336 L431.25 333.75 L431.88 333.75 L432.5 333.28 L433.12 334.14 L433.75 335.1 L434.38 335.12 L435 335.25 L435.62 335.49 L436.25 334.56 L436.88 334.5 L437.5 334.38 L438.12 334.27 L438.75 335.27 L439.38 336.32 L440 336.35 L440.62 337.32 L441.25 337.27 L441.88 338.12 L442.5 338.32 L443.12 339.19 L443.75 339.58 L444.38 340.53 L445 340.83 L445.62 341.25 L446.5 332.5 L447.2 334.32 L447.9 334.13 L448.6 335 L449.3 335.44 L450 336.88 L450.62 337.41 L451.25 338.28 L451.88 338.04 L452.5 338.93 L453.12 339.86 L453.75 340 L454.38 339.78 L455 339.41 L455.62 340.05 L456.25 339.38 L456.88 340.26 L457.5 341.25 L458.12 342.49 L458.75 343.31 L459.38 343.36 L460 344.38 L461 333.75 L461.69 333.79 L462.38 334.52 L463.06 334.62 L463.75 335 L464.38 334.81 L465 337.21 L465.62 337.35 L466.25 338.5 L466.88 338.31 L467.5 340.34 L468.12 340.17 L468.75 341.25 L469.38 341.86 L470 341.88 L470.62 343.17 L471.25 343.8 L471.88 344.49 L472.5 345.25 L473.12 343.69 L473.75 341.72 L474.38 340.39 L475 338.12 L475.62 339.35 L476.25 340.56 L476.88 342.5 L477.5 341.24 L478.12 340.3 L478.75 339.35 L479.38 337.89 L480 336.25 L480.62 336.19 L481.25 337.99 L481.88 339.29 L482.5 339.38 L483.12 338.57 L483.75 337.46 L484.38 336.88 L485 337.54 L485.62 337.68 L486.25 338.74 L486.88 338.95 L487.5 340.13 L488.12 340 L488.75 339.61 L489.38 338.42 L490 338.12 L490.62 338.4 L491.25 338.55 L491.88 337.87 L492.5 337.93 L493.12 338.12 L493.75 338.12 L494.38 340.62 L495 341.25 L495.62 338.69 L496.25 335.72 L496.88 334.38 L497.5 334.21 L498.12 335.53 L498.75 336.59 L499.38 336.84 L500 337.5 L500.62 338.21 L501.25 338.02 L501.88 338.41 L502.5 339.89 L503.12 340 L503.75 336.88 L504.38 333.32 L505 330 L505.62 336.88 L506.25 336.8 L506.88 335.22 L507.5 334.82 L508.12 334.81 L508.75 333.75 L509.38 335.25 L510 335.21 L510.62 336.64 L511.25 336.42 L511.88 337.53 L512.5 338.12 L513.12 337.93 L513.75 337.22 L514.38 337.86 L515 338.01 L515.62 337.5 L516.23 337.98 L516.84 338.54 L517.45 339.67 L518.05 339.14 L518.66 339.58 L519.27 340.45 L519.88 341.25 L520 338.75 L520.62 337.96 L521.25 338.12 L521.88 340.85 L522.5 342.5 L523.12 343.12 L523.75 343.15 L524.38 343.75 L525 345.64 L525.62 345 L526.25 345.59 L526.88 346.36 L527.5 347.62 L528.12 348.59 L528.75 349.25 L529.38 350 L530 349.33 L530.62 348.91 L531.25 349.3 L531.88 348.75 L532.5 351.23 L533.12 353.75 L533.75 354.04 L534.38 356.09 L535 356.87 L535.62 357.4 L536.25 358.33 L536.88 359.38 L537.25 320 L537.5 320.62 L538.12 321.59 L538.75 322.1 L539.38 322.72 L540 324.25 L540.62 325 L541.25 324.12 L541.88 324.53 L542.5 323.49 L543.12 323.75 L543.75 325.9 L544.38 328.12 L545 329.07 L545.62 330.83 L546.25 330.7 L546.88 331.57 L547.5 333.12 L548.12 333.49 L548.75 333.93 L549.38 334.77 L550 335.79 L550.62 336.25 L551.31 336.55 L552 336.25 L552.25 287.38 L552.5 336.5 L553.12 337.28 L553.75 336.46 L554.38 336.88 L555 338.66 L555.62 339.15 L556.25 339.04 L556.88 338.97 L557.5 340.62 L558.12 340.38 L558.75 340.24 L559.38 340 L560 339.72 L560.62 341.28 L561.25 341.8 L561.88 342.19 L562.5 343.12 L563.12 343.87 L563.75 344.52 L564.38 344.43 L565 345.21 L565.62 345.62 L566.25 344.74 L566.88 344.07 L567.5 343.78 L568.12 343.12 L568.75 343.51 L569.38 343.26 L570 342.8 L570.62 344.07 L571.25 343.39 L571.88 344.24 L572.5 344.38 L573.12 343.19 L573.75 340.62 L574.38 341.24 L575 341.41 L575.62 341.93 L576.25 343.58 L576.88 343.75 L577.5 343.12 L578.12 342.71 L578.75 341.88 L579.38 342.76 L580 342.9 L580.62 343.32 L581.25 343.59 L581.88 343.28 L582.5 345 L583.12 337.5 L583.75 337.18 L584.38 338.01 L585 338.24 L585.62 338.73 L586.25 338.79 L586.88 339.17 L587.5 339.38 L588.12 340.22 L588.75 340.1 L589.38 340.87 L590 340.9 L590.62 342.43 L591.25 342.6 L591.88 343.12 L592.5 342.9 L593.12 342.89 L593.75 341.88 L594.38 343.54 L595 344.35 L595.62 345.93 L596.25 346.88 L596.88 346.32 L597.5 347.04 L598.12 346.93 L598.75 346.25 L599.38 346.88 L600 339.38 L600.62 339.64 L601.25 338.6 L601.88 338.89 L602.5 338.21 L603.12 338.12 L603.75 339.06 L604.38 339.74 L605 339.47 L605.62 339.76 L606.25 340.85 L606.88 341.78 L607.5 341.87 L608.12 342.33 L608.75 343.12 L609.38 340.81 L610 338.12 L610.62 337.62 L611.25 338.98 L611.88 339.26 L612.5 340.46 L613.12 340.62 L613.75 341.03 L614.38 341.88 L615 342.01 L615.62 343.12 L616.25 341.24 L616.88 339.38 L617.5 339.56 L618.12 340.12 L618.75 340.44 L619.38 341.51 L620 341.57 L620.62 342.25 L621.25 342.5 L621.88 343.07 L622.5 342.97 L623.12 343.89 L623.75 344.2 L624.38 344.57 L625 344.69 L625.62 345.07 L626.25 345.62 L626.88 336.25 L627.5 337.05 L628.12 338.08 L628.75 337.43 L629.38 338.45 L630 338.75 L630.62 337.36 L631.25 336.25 L631.88 337.07 L632.5 337.46 L633.12 338.21 L633.75 337.28 L634.38 338.63 L635 339.38 L635.62 339.5 L636.25 340.33 L636.88 340.6 L637.5 341.13 L638.12 341.88 L638.75 335 L639.38 334.84 L640 334.88 L640.62 333.75 L641.25 330 L641.88 329.35 L642.5 330.72 L643.12 331.37 L643.75 331.67 L644.38 331.95 L645 332.5 L645.62 332.55 L646.25 333.27 L646.88 334.46 L647.5 335.15 L648.12 335.35 L648.75 335.56 L649.38 336.47 L650 336.91 L650.62 337.77 L651.25 338.12 L651.88 338.54 L652.5 338.64 L653.12 339.32 L653.75 339.18 L654.38 340.31 L655 340.82 L655.62 340.31 L656.25 341.28 L656.88 341.13 L657.5 341.88 L658.12 342.46 L658.75 342.59 L659.38 342.35 L660 343 L660.62 342.65 L661.25 342.76 L661.88 342.98 L662.5 343.32 L663.12 343.44 L663.75 343.75 L664.38 343.65 L665 343.21 L665.62 343.57 L666.25 343.12 L666.88 343.88 L667.5 343.69 L668.12 343.72 L668.75 344.89 L669.38 345 L669.88 338.75 L670 340 L670.62 339.95 L671.25 339 L671.88 338.12 L672.5 338.12 L673.12 338.6 L673.75 339.44 L674.38 338.55 L675 339.8 L675.62 339.88 L676.25 340.06 L676.88 340.93 L677.5 340.64 L678.12 341.61 L678.75 341.88 L679.75 330.62 L680.42 331.53 L681.08 331.52 L681.75 331.55 L682.42 331.63 L683.08 332.23 L683.75 333.12 L684.38 332.88 L685 334.59 L685.62 334.35 L686.25 334.49 L686.88 334.83 L687.5 335.36 L688.12 336.06 L688.75 336.15 L689.38 337.68 L690 337.5 L690.62 335.98 L691.25 334.71 L691.88 333.75 L692.5 334.31 L693.12 335.18 L693.75 335.58 L694.38 335.36 L695 336.08 L695.62 336.48 L696.25 336.88 L696.88 337.59 L697.5 338.01 L698.12 338.09 L698.75 338.5 L699.38 339.54 L700 340 L700.62 337.69 L701.25 336.25 L701.88 337.22 L702.5 337.2 L703.12 337.28 L703.75 338.12 L704.38 337.7 L705 337.31 L705.62 337.14 L706.25 336.88 L706.88 337.77 L707.5 337.44 L708.12 337.83 L708.75 339.19 L709.38 339.54 L710 340.22 L710.62 340.86 L711.25 341.25 L711.88 341.6 L712.5 342.37 L713.12 342.18 L713.75 342.94 L714.38 343.03 L715 343.34 L715.62 344.39 L716.25 344.79 L716.88 345 L717.75 326.25 L718.43 325.9 L719.11 326.56 L719.79 327.43 L720.46 328.07 L721.14 327.79 L721.82 328.33 L722.5 328.75 L723.12 328.71 L723.75 330.6 L724.38 330.33 L725 330.95 L725.62 331.33 L726.25 331.9 L726.88 332.25 L727.5 332.38 L728.12 333.24 L728.75 333.47 L729.38 334.37 L730 334.38 L730.62 333.95 L731.25 333.87 L731.88 334.14 L732.5 333.75 L733.12 334.6 L733.75 334.58 L734.38 334.67 L735 335.27 L735.62 335.52 L736.25 336.78 L736.88 336.81 L737.5 336.88 L738.12 337.72 L738.75 337.76 L739.38 337.85 L740 338.86 L740.62 339.42 L741.25 339.43 L741.88 339.6 L742.5 340 L743.12 338.82 L743.75 336.74 L744.38 335.59 L745 333.75 L745.62 338.12 L746.25 337.71 L746.88 337.47 L747.5 337.86 L748.12 337.5 L749 331 L749.6 331.27 L750.2 331.98 L750.8 331.35 L751.4 331.61 L752 331.34 L752.6 331.23 L753.2 331.42 L753.8 332.36 L754.4 331.93 L755 332.5 L755.62 333.21 L756.25 333.63 L756.88 333.34 L757.5 334.34 L758.12 334.14 L758.75 334.77 L759.38 334.61 L760 335.34 L760.62 334.98 L761.25 335.62 L761.88 336.12 L762.5 336.02 L763.12 336.41 L763.75 336.96 L764.38 337.08 L765 337.27 L765.62 337.83 L766.25 338.13 L766.88 338.12 L767.5 335.76 L768.12 334.38 L768.75 334.57 L769.38 334.61 L770 334.11 L770.62 334.51 L771.25 334.38 L771.88 333.07 L772.5 333.22 L773.12 331.88 L773.75 332.07 L774.38 332.4 L775 333.13 L775.62 332.94 L776.25 333.47 L776.88 333.17 L777.5 333.62 L778.12 333.61 L778.75 334.38 L779.38 334.72 L780 335.57 L780.62 335.7 L781.25 336.35 L781.88 336.1 L782.5 336.57 L783.12 337.13 L783.75 337.91 L784.38 338.12 L785.25 323.75 L785.93 324.23 L786.61 324.46 L787.29 325.04 L787.96 325.13 L788.64 325.53 L789.32 326.35 L790 326.25 L790.62 326.48 L791.25 327.19 L791.88 328.12 L792.5 328.04 L793.12 328.68 L793.75 328.66 L794.38 329.99 L795 328.97 L795.62 329.79 L796.25 330.62 L796.88 328.7 L797.5 327.5 L798.12 328.45 L798.75 328.4 L799.38 328.58 L800 328.62 L800.62 329.58 L801.25 329.88 L801.88 329.99 L802.5 330.62 L803.12 330.55 L803.75 331.12 L804.38 332.01 L805 332.48 L805.62 332.84 L806.25 333.2 L806.88 333.08 L807.5 334.14 L808.12 334.21 L808.75 335 L809.38 335.46 L810 336.05 L810.62 336.11 L811.25 336.43 L811.88 337.57 L812.5 337.8 L813.12 338.12 L813.75 337.69 L814.38 336.65 L815 337.45 L815.62 337.25 L816.25 337.77 L816.88 338.24 L817.5 337.92 L818.12 338.23 L818.75 338.75 L819.38 324.38 L820 325 L820.62 325.21 L821.25 326.02 L821.88 325.69 L822.5 326.42 L823.12 326.51 L823.75 327.28 L824.38 327.02 L825 328.05 L825.62 328.11 L826.25 328.57 L826.88 329.19 L827.5 329.38 L828.12 330.08 L828.75 329.42 L829.38 330.66 L830 330.82 L830.62 330.84 L831.25 331.73 L831.88 331.63 L832.5 332.32 L833.12 331.99 L833.75 332.2 L834.38 333.23 L835 333.86 L835.62 333.65 L836.25 333.75 L836.88 334.05 L837.5 333.59 L838.12 333.3 L838.75 333.67 L839.38 334.26 L840 333.75 L840.62 323.12 L841.25 322.58 L841.88 323.14 L842.5 322.74 L843.12 323.52 L843.75 323.87 L844.38 323.24 L845 323.75 L845.62 323.95 L846.25 324.88 L846.88 324.74 L847.5 324.69 L848.12 325.01 L848.75 325.11 L849.38 326.4 L850 326.23 L850.62 327.17 L851.25 327.45 L851.88 327.5 L852.75 319.38 L853.45 319.53 L854.15 319.95 L854.85 320.76 L855.55 320.93 L856.25 321.25 L856.88 321.62 L857.5 321.25 L858.12 322.39 L858.75 322.07 L859.38 321.88 L860 322.71 L860.62 323.34 L861.25 324.18 L861.88 323.75 L862.5 319.38 L863.12 319.61 L863.75 319.65 L864.38 321.16 L865 320.87 L865.62 321.08 L866.25 321.17 L866.88 321.55 L867.5 322.25 L868.12 322.81 L868.75 322.28 L869.38 322.26 L870 322.5 L870.62 322.8 L871.25 323.96 L871.88 323.71 L872.5 324.58 L873.12 324.93 L873.75 325.39 L874.38 325.49 L875 326.47 L875.62 327.25 L876.25 327.17 L876.88 327.35 L877.5 328.12 L878.12 328.11 L878.75 329.02 L879.38 329.28 L880 329.76 L880.62 330.21 L881.25 330.14 L881.88 331.3 L882.5 331.54 L883.12 331.85 L883.75 332.37 L884.38 333.02 L885 333.12 L885.62 333.53 L886.25 333.61 L886.88 334.66 L887.5 334.52 L888.12 334.81 L888.75 334.92 L889.38 335.82 L890 335.86 L890.62 336.42 L891.25 337.12 L891.88 337.37 L892.5 338.08 L893.12 338.12 L894 334.38 L894.75 338.12 L895.41 338.69 L896.06 338.93 L896.72 339.42 L897.38 339.83 L898.03 340.68 L898.69 340.94 L899.34 341.27 L900 341.88 L900.62 342.57 L901.25 342.74 L901.88 342.97 L902.5 343.05 L903.12 344.1 L903.75 344.45 L904.38 344.81 L905 345.07 L905.62 345.35 L906.25 345.97 L906.88 346.53 L907.5 346.88 L908.12 320.62 L908.75 321.03 L909.38 321.47 L910 321.81 L910.62 322.52 L911.25 322.93 L911.88 323.06 L912.5 323.75 L913.12 324.41 L913.75 324.84 L914.38 325.26 L915 325.37 L915.62 325.77 L916.25 325.87 L916.88 326.91 L917.5 326.39 L918.12 327.37 L918.75 327.81 L919.38 328.61 L920 328.75 L920.62 329.17 L921.25 329.27 L921.88 329.54 L922.5 330.18 L923.12 330.87 L923.75 331.27 L924.38 331.6 L925 331.86 L925.62 332.43 L926.25 333.24 L926.88 332.98 L927.5 333.75 L928.12 334.13 L928.75 335 L929.38 335.02 L930 335.06 L930.62 335.79 L931.25 335.7 L931.88 336.3 L932.5 337.17 L933.12 337.64 L933.75 336.85 L934.38 337.99 L935 338.12 L935.62 339.17 L936.25 338.78 L936.88 339.46 L937.5 340.28 L938.12 340.05 L938.75 340.77 L939.38 341.02 L940 340.84 L940.62 341.99 L941.25 342.23 L941.88 343.01 L942.5 343.12 L943.12 344.35 L943.75 344.45 L944.38 344.67 L945 345.49 L945.62 345.97 L946.25 346.79 L946.88 346.55 L947.5 347.2 L948.12 348.12 L949 343.12 L949.7 342.85 L950.4 344.07 L951.1 344.24 L951.8 344.42 L952.5 345 L953.12 345.71 L953.75 346.88 L954 326.25 L954.75 347.5 L955.5 342.63 L956.25 338.12 L956.88 338.38 L957.5 339.12 L958.12 339.61 L958.75 340.75 L959.38 340.96 L960 341.15 L960.62 341.77 L961.25 342.5 L961.88 343.4 L962.5 343.68 L963.12 344.16 L963.75 344.81 L964.38 345.61 L965 345.62 L965.62 331.25 L966.23 331.22 L966.84 331.73 L967.45 331.77 L968.05 332.83 L968.66 332.92 L969.27 333.18 L969.88 333.75 L970 335.25 L970.62 335.57 L971.25 336.59 L971.88 336.89 L972.5 337.5 L973.12 337.9 L973.75 339.03 L974.38 338.88 L975 339.38 L975.62 341.16 L976.25 340.79 L976.88 341.31 L977.5 341.82 L978.12 342.57 L978.75 343.43 L979.38 343.75 L980 326.25 L980.62 326.8 L981.25 327.05 L981.88 327.1 L982.5 327.03 L983.12 327.9 L983.75 328.6 L984.38 328.77 L985 328.75 L985.62 329.32 L986.25 330.25 L986.88 330.5 L987.5 331.23 L988.12 331.49 L988.75 332.4 L989.38 333.17 L990 333.7 L990.62 334.61 L991.25 335 L991.88 336.3 L992.5 336.84 L993.12 337.05 L993.75 337.63 L994.38 338.37 L995 338.98 L995.62 340 L996.25 338.45 L996.88 336.88 L997.5 338.57 L998.12 340 L998.75 340.56 L999.38 341.06 L1000 341.55 L1000.62 341.96 L1001.25 342.5 L1001.88 323.12 L1002.5 323.77 L1003.12 325.41 L1003.75 326.07 L1004.38 326.34 L1005 327.5 L1005.62 328.35 L1006.25 329.57 L1006.88 330.89 L1007.5 332.39 L1008.12 333.12 L1008.75 331.56 L1009.38 329.38 L1010.08 328.25 L1010.79 326.79 L1011.5 325 L1012.25 327.01 L1013 328.56 L1013.75 330 L1014.38 331.39 L1015 332.46 L1015.62 333.22 L1016.25 334.96 L1016.88 336.8 L1017.5 337.33 L1018.12 338.56 L1018.75 340 L1019.38 341.77 L1020 342.94 L1020.62 344.23 L1021.25 346.31 L1021.88 347.48 L1022.5 348.75 L1023.12 343.98 L1023.75 338.75 L1024.38 339.2 L1025 340 L1025.38 245.5 L1025.75 338.75 L1026.35 339.9 L1026.95 340.86 L1027.55 341.99 L1028.15 343.1 L1028.75 343.75 L1029.38 346.38 L1030 348.39 L1030.62 350.83 L1031.25 352.57 L1031.88 355.4 L1032.5 357.5 L1032.88 321.25 L1033.58 324.79 L1034.29 327.8 L1035 331.25 L1035.62 333.52 L1036.25 336.23 L1036.88 338.38 L1037.5 341.25 L1038.12 342.6 L1038.75 343.84 L1039.38 344.71 L1040 346.25 L1040.62 348.14 L1041.25 350.32 L1041.88 352.2 L1042.5 353.75 L1043.12 350 L1043.75 354.05 L1044.38 357.45 L1045 361.25 L1045.62 336.25 L1046.25 343.02 L1046.88 350 L1047.5 339.26 L1048.12 328.75 L1048.75 337.5 L1049.38 342.05 L1050 346.25" fill="none" stroke="#000000" stroke-width="2.6" stroke-linejoin="round" stroke-linecap="butt"/>
<path d="M1050 346.25 L1050.3 349 L1051.2 358 L1051.97 365.99 L1052.73 373.05 L1053.5 380 L1054.13 385.41 L1054.77 390.34 L1055.4 394.6 L1056.03 399.95 L1056.67 404.9 L1057.3 410 L1057.97 415.28 L1058.63 420.36 L1059.3 425 L1060 429.87 L1060.7 435.01 L1061.4 440 L1062.1 444.1 L1062.8 447.92 L1063.5 452 L1064.27 455.67 L1065.03 459.43 L1065.8 463.3 L1066.53 466.65 L1067.27 469.65 L1068 473 L1068.7 475.7 L1069.4 478.16 L1070.1 480.8 L1070.8 483.3 L1071.53 485.5 L1072.27 487.38 L1073 489.5 L1073.7 491.15 L1074.4 492.92 L1075.1 494.55 L1075.8 496.3 L1076.6 498.03 L1077.4 499.8 L1078.1 501.2 L1078.8 502.6" fill="none" stroke="#000000" stroke-width="2.4" stroke-linejoin="round" stroke-linecap="butt"/>
<g fill="#0000ff"><circle cx="179.6" cy="76.25" r="2.85"/><circle cx="180.4" cy="98.3" r="2.85"/><circle cx="158.3" cy="138.3" r="2.85"/><circle cx="178.3" cy="139.3" r="2.85"/><circle cx="181.4" cy="144.3" r="2.85"/><circle cx="179.3" cy="154.8" r="2.85"/><circle cx="178.3" cy="173.3" r="2.85"/><circle cx="179.3" cy="177.5" r="2.85"/><circle cx="160.4" cy="181.5" r="2.85"/><circle cx="171.5" cy="200.6" r="2.85"/><circle cx="189.3" cy="204.3" r="2.85"/><circle cx="209.3" cy="208.3" r="2.85"/><circle cx="162.3" cy="219.6" r="2.85"/><circle cx="161.5" cy="235.4" r="2.85"/><circle cx="214.3" cy="233.5" r="2.85"/><circle cx="183.3" cy="250" r="2.85"/><circle cx="209.3" cy="251" r="2.85"/><circle cx="161.5" cy="254.3" r="2.85"/><circle cx="206.5" cy="280.4" r="2.85"/><circle cx="210.4" cy="284.3" r="2.85"/><circle cx="215.4" cy="278.3" r="2.85"/><circle cx="219.3" cy="290" r="2.85"/><circle cx="220.3" cy="290.6" r="2.85"/><circle cx="231.4" cy="285.4" r="2.85"/><circle cx="207.5" cy="299.3" r="2.85"/><circle cx="202.3" cy="304.3" r="2.85"/><circle cx="209.3" cy="307.3" r="2.85"/><circle cx="162.5" cy="310.4" r="2.85"/><circle cx="180.4" cy="327.5" r="2.85"/><circle cx="202.3" cy="326.4" r="2.85"/><circle cx="211.4" cy="327" r="2.85"/><circle cx="211.4" cy="330.6" r="2.85"/><circle cx="221.5" cy="324.3" r="2.85"/><circle cx="220.4" cy="327.5" r="2.85"/><circle cx="160.4" cy="334.8" r="2.85"/><circle cx="158.9" cy="340" r="2.85"/><circle cx="182.5" cy="345.4" r="2.85"/><circle cx="208.5" cy="345.4" r="2.85"/><circle cx="159.4" cy="351.4" r="2.85"/><circle cx="189.3" cy="352.3" r="2.85"/><circle cx="201.25" cy="351.4" r="2.85"/><circle cx="203.75" cy="351.4" r="2.85"/><circle cx="174.6" cy="354.4" r="2.85"/><circle cx="157.5" cy="357.25" r="2.85"/><circle cx="185.6" cy="361.4" r="2.85"/><circle cx="155.4" cy="362.3" r="2.85"/><circle cx="163.3" cy="364.2" r="2.85"/><circle cx="164.6" cy="367.5" r="2.85"/><circle cx="182.5" cy="366.5" r="2.85"/><circle cx="190.4" cy="382.4" r="2.85"/><circle cx="191.4" cy="400.4" r="2.85"/><circle cx="170.4" cy="404.3" r="2.85"/><circle cx="180.4" cy="411.5" r="2.85"/><circle cx="175.4" cy="417.5" r="2.85"/><circle cx="182.5" cy="423.3" r="2.85"/><circle cx="178.3" cy="426.5" r="2.85"/><circle cx="181.7" cy="428.75" r="2.85"/><circle cx="161.4" cy="429.2" r="2.85"/><circle cx="165.4" cy="431.25" r="2.85"/><circle cx="181.4" cy="434.3" r="2.85"/><circle cx="171.7" cy="435.4" r="2.85"/><circle cx="169.6" cy="438.3" r="2.85"/><circle cx="160.4" cy="444.4" r="2.85"/><circle cx="170.4" cy="444.4" r="2.85"/><circle cx="184.6" cy="446.25" r="2.85"/><circle cx="183.3" cy="449.6" r="2.85"/><circle cx="176.4" cy="450.4" r="2.85"/><circle cx="156.4" cy="456.25" r="2.85"/><circle cx="156.4" cy="458.2" r="2.85"/><circle cx="175.4" cy="460.4" r="2.85"/><circle cx="176.8" cy="463" r="2.85"/><circle cx="156.4" cy="466.25" r="2.85"/><circle cx="163.3" cy="466.3" r="2.85"/><circle cx="173.75" cy="466.5" r="2.85"/><circle cx="155.2" cy="468.3" r="2.85"/><circle cx="159.6" cy="469.4" r="2.85"/><circle cx="172.9" cy="468.3" r="2.85"/><circle cx="163.3" cy="474.4" r="2.85"/><circle cx="162.5" cy="476.7" r="2.85"/><circle cx="157.5" cy="478.3" r="2.85"/><circle cx="273.4" cy="227.5" r="2.85"/><circle cx="552.5" cy="275.6" r="2.85"/><circle cx="954.4" cy="316.5" r="2.85"/><circle cx="1025.4" cy="231.5" r="2.85"/><circle cx="1026.5" cy="288.3" r="2.85"/><circle cx="1033.3" cy="312.1" r="2.85"/><circle cx="1034.5" cy="315" r="2.85"/><circle cx="1047.5" cy="318.5" r="2.85"/><circle cx="1048.5" cy="323.5" r="2.85"/><circle cx="1045.5" cy="326.3" r="2.85"/><circle cx="1033.4" cy="350.4" r="2.85"/><circle cx="261.25" cy="278.5" r="2.85"/></g>
</g>
<path d="M150.5 72V534M1080.5 72V534M150 72.5H1081M150 534.5H1081" stroke="#000000" stroke-width="1.11" fill="none" stroke-linecap="butt"/>
<path d="M150 72.5H1081M150 534.5H1081" stroke="#000000" stroke-opacity="0.057" stroke-width="3" fill="none"/>
<path d="M238.5 534.5V539.4M364.5 534.5V539.4M489.5 534.5V539.4M615.5 534.5V539.4M741.5 534.5V539.4M866.5 534.5V539.4M992.5 534.5V539.4M150.5 534.5H145.5M150.5 476.5H145.5M150.5 419.5H145.5M150.5 361.5H145.5M150.5 303.5H145.5M150.5 245.5H145.5M150.5 188.5H145.5M150.5 130.5H145.5M150.5 72.5H145.5" stroke="#000000" stroke-width="1.11" fill="none"/>
<path d="M150.5 534.5H145.5M150.5 476.5H145.5M150.5 419.5H145.5M150.5 361.5H145.5M150.5 303.5H145.5M150.5 245.5H145.5M150.5 188.5H145.5M150.5 130.5H145.5M150.5 72.5H145.5" stroke="#000000" stroke-opacity="0.057" stroke-width="3" fill="none"/>
<g font-size="13.889px" fill="#000000" text-anchor="middle">
<text x="237.97" y="555.2">20</text>
<text x="363.65" y="555.2">30</text>
<text x="489.32" y="555.2">40</text>
<text x="615" y="555.2">50</text>
<text x="740.68" y="555.2">60</text>
<text x="866.35" y="555.2">70</text>
<text x="992.03" y="555.2">80</text>
<text x="615" y="573.9">Frequency (MHz)</text>
</g>
<g font-size="13.889px" fill="#000000" text-anchor="end">
<text x="140.3" y="540.2">0</text>
<text x="140.3" y="482.2">5</text>
<text x="140.3" y="424.2">10</text>
<text x="140.3" y="366.2">15</text>
<text x="140.3" y="308.2">20</text>
<text x="140.3" y="251.2">25</text>
<text x="140.3" y="193.2">30</text>
<text x="140.3" y="135.2">35</text>
<text x="140.3" y="78.2">40</text>
</g>
<text transform="translate(112.9 304.3) rotate(-90)" font-size="13.889px" text-anchor="middle" fill="#000000">Power (CPU)</text>
<text x="615" y="64.1" font-size="16.667px" text-anchor="middle" fill="#000000">2025-03-18 - Cor 190 - LWA319 - Pol XX</text>
<rect x="899.5" y="79.5" width="174" height="67" rx="2.78" ry="2.78" fill="#ffffff" fill-opacity="0.8" stroke="#cccccc" stroke-opacity="0.8" stroke-width="1.39"/>
<path d="M904.03 91H931.97" stroke="#000000" stroke-width="2.083" fill="none" stroke-linecap="square"/>
<circle cx="918.4" cy="112.5" r="2.85" fill="#0000ff"/>
<rect x="904.5" y="128.5" width="28" height="9" fill="#808080" fill-opacity="0.4" stroke="#808080" stroke-opacity="0.4" stroke-width="1.39"/>
<g font-size="13.889px" fill="#000000">
<text x="942.9" y="94.6">Median Spectrum</text>
<text x="942.9" y="116.4">Flagged Channels</text>
<text x="942.9" y="137.0">Median Abs. Dev.</text>
</g>
</svg>
</body></html>
